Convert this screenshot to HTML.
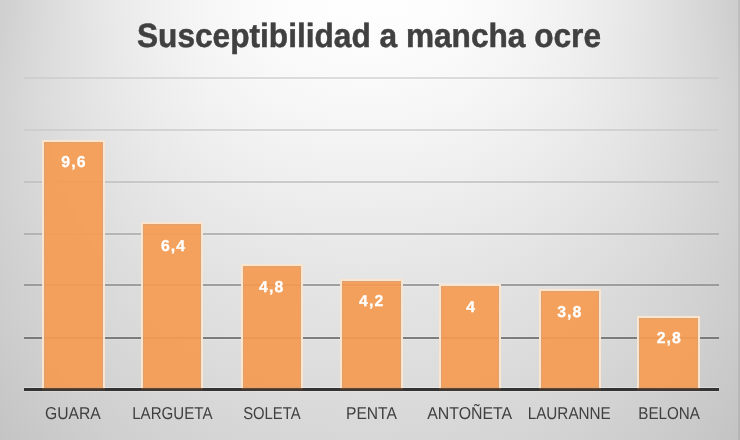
<!DOCTYPE html>
<html><head><meta charset="utf-8"><style>
html,body{margin:0;padding:0;}
body{width:740px;height:440px;overflow:hidden;background:#d8d8d8;}
#c{position:relative;width:740px;height:440px;overflow:hidden;font-family:"Liberation Sans",sans-serif;}
#c i{position:absolute;left:0;width:740px;height:4px;display:block;}
#edge{position:absolute;left:738px;top:0;width:2px;height:440px;background:rgba(0,0,0,0.07);}
svg{position:absolute;left:0;top:0;will-change:transform;text-rendering:geometricPrecision;}
</style></head><body><div id="c">
<i style="top:0px;background:linear-gradient(90deg,rgb(206.7,206.7,206.7) 0px,rgb(208.4,208.4,208.4) 6px,rgb(210.6,210.6,210.6) 14px,rgb(213.8,213.8,213.8) 26px,rgb(217.8,217.8,217.8) 42px,rgb(222.6,222.6,222.6) 62px,rgb(228.2,228.2,228.2) 88px,rgb(234.3,234.3,234.3) 120px,rgb(240.6,240.6,240.6) 160px,rgb(246.8,246.8,246.8) 210px,rgb(251.5,251.5,251.5) 270px,rgb(253.7,253.7,253.7) 330px,rgb(254.0,254.0,254.0) 366px,rgb(253.7,253.7,253.7) 402px,rgb(251.5,251.5,251.5) 462px,rgb(246.8,246.8,246.8) 522px,rgb(240.6,240.6,240.6) 572px,rgb(234.3,234.3,234.3) 612px,rgb(228.2,228.2,228.2) 644px,rgb(222.6,222.6,222.6) 670px,rgb(217.8,217.8,217.8) 690px,rgb(213.8,213.8,213.8) 706px,rgb(210.1,210.1,210.1) 720px,rgb(207.3,207.3,207.3) 730px,rgb(204.4,204.4,204.4) 740px)"></i>
<i style="top:4px;background:linear-gradient(90deg,rgb(206.7,206.7,206.7) 0px,rgb(208.4,208.4,208.4) 6px,rgb(210.6,210.6,210.6) 14px,rgb(213.8,213.8,213.8) 26px,rgb(217.8,217.8,217.8) 42px,rgb(222.6,222.6,222.6) 62px,rgb(228.2,228.2,228.2) 88px,rgb(234.3,234.3,234.3) 120px,rgb(240.6,240.6,240.6) 160px,rgb(246.8,246.8,246.8) 210px,rgb(251.5,251.5,251.5) 270px,rgb(253.7,253.7,253.7) 330px,rgb(254.0,254.0,254.0) 366px,rgb(253.7,253.7,253.7) 402px,rgb(251.5,251.5,251.5) 462px,rgb(246.8,246.8,246.8) 522px,rgb(240.6,240.6,240.6) 572px,rgb(234.3,234.3,234.3) 612px,rgb(228.2,228.2,228.2) 644px,rgb(222.6,222.6,222.6) 670px,rgb(217.8,217.8,217.8) 690px,rgb(213.8,213.8,213.8) 706px,rgb(210.1,210.1,210.1) 720px,rgb(207.3,207.3,207.3) 730px,rgb(204.4,204.4,204.4) 740px)"></i>
<i style="top:8px;background:linear-gradient(90deg,rgb(206.7,206.7,206.7) 0px,rgb(208.4,208.4,208.4) 6px,rgb(210.6,210.6,210.6) 14px,rgb(213.8,213.8,213.8) 26px,rgb(217.8,217.8,217.8) 42px,rgb(222.6,222.6,222.6) 62px,rgb(228.2,228.2,228.2) 88px,rgb(234.3,234.3,234.3) 120px,rgb(240.6,240.6,240.6) 160px,rgb(246.8,246.8,246.8) 210px,rgb(251.5,251.5,251.5) 270px,rgb(253.7,253.7,253.7) 330px,rgb(254.0,254.0,254.0) 366px,rgb(253.7,253.7,253.7) 402px,rgb(251.5,251.5,251.5) 462px,rgb(246.8,246.8,246.8) 522px,rgb(240.6,240.6,240.6) 572px,rgb(234.3,234.3,234.3) 612px,rgb(228.2,228.2,228.2) 644px,rgb(222.6,222.6,222.6) 670px,rgb(217.8,217.8,217.8) 690px,rgb(213.8,213.8,213.8) 706px,rgb(210.1,210.1,210.1) 720px,rgb(207.3,207.3,207.3) 730px,rgb(204.4,204.4,204.4) 740px)"></i>
<i style="top:12px;background:linear-gradient(90deg,rgb(206.7,206.7,206.7) 0px,rgb(208.4,208.4,208.4) 6px,rgb(210.6,210.6,210.6) 14px,rgb(213.8,213.8,213.8) 26px,rgb(217.8,217.8,217.8) 42px,rgb(222.6,222.6,222.6) 62px,rgb(228.2,228.2,228.2) 88px,rgb(234.3,234.3,234.3) 120px,rgb(240.6,240.6,240.6) 160px,rgb(246.8,246.8,246.8) 210px,rgb(251.5,251.5,251.5) 270px,rgb(253.7,253.7,253.7) 330px,rgb(254.0,254.0,254.0) 366px,rgb(253.7,253.7,253.7) 402px,rgb(251.5,251.5,251.5) 462px,rgb(246.8,246.8,246.8) 522px,rgb(240.6,240.6,240.6) 572px,rgb(234.3,234.3,234.3) 612px,rgb(228.2,228.2,228.2) 644px,rgb(222.6,222.6,222.6) 670px,rgb(217.8,217.8,217.8) 690px,rgb(213.8,213.8,213.8) 706px,rgb(210.1,210.1,210.1) 720px,rgb(207.3,207.3,207.3) 730px,rgb(204.4,204.4,204.4) 740px)"></i>
<i style="top:16px;background:linear-gradient(90deg,rgb(206.8,206.8,206.8) 0px,rgb(208.5,208.5,208.5) 6px,rgb(210.7,210.7,210.7) 14px,rgb(213.9,213.9,213.9) 26px,rgb(217.9,217.9,217.9) 42px,rgb(222.6,222.6,222.6) 62px,rgb(228.2,228.2,228.2) 88px,rgb(234.2,234.2,234.2) 120px,rgb(240.6,240.6,240.6) 160px,rgb(246.6,246.6,246.6) 210px,rgb(251.3,251.3,251.3) 270px,rgb(253.5,253.5,253.5) 330px,rgb(253.8,253.8,253.8) 366px,rgb(253.5,253.5,253.5) 402px,rgb(251.3,251.3,251.3) 462px,rgb(246.6,246.6,246.6) 522px,rgb(240.6,240.6,240.6) 572px,rgb(234.2,234.2,234.2) 612px,rgb(228.2,228.2,228.2) 644px,rgb(222.6,222.6,222.6) 670px,rgb(217.9,217.9,217.9) 690px,rgb(213.9,213.9,213.9) 706px,rgb(210.2,210.2,210.2) 720px,rgb(207.4,207.4,207.4) 730px,rgb(204.5,204.5,204.5) 740px)"></i>
<i style="top:20px;background:linear-gradient(90deg,rgb(207.0,207.0,207.0) 0px,rgb(208.7,208.7,208.7) 6px,rgb(210.9,210.9,210.9) 14px,rgb(214.0,214.0,214.0) 26px,rgb(218.0,218.0,218.0) 42px,rgb(222.6,222.6,222.6) 62px,rgb(228.1,228.1,228.1) 88px,rgb(234.1,234.1,234.1) 120px,rgb(240.4,240.4,240.4) 160px,rgb(246.4,246.4,246.4) 210px,rgb(251.1,251.1,251.1) 270px,rgb(253.3,253.3,253.3) 330px,rgb(253.5,253.5,253.5) 366px,rgb(253.3,253.3,253.3) 402px,rgb(251.1,251.1,251.1) 462px,rgb(246.4,246.4,246.4) 522px,rgb(240.4,240.4,240.4) 572px,rgb(234.1,234.1,234.1) 612px,rgb(228.1,228.1,228.1) 644px,rgb(222.6,222.6,222.6) 670px,rgb(218.0,218.0,218.0) 690px,rgb(214.0,214.0,214.0) 706px,rgb(210.3,210.3,210.3) 720px,rgb(207.6,207.6,207.6) 730px,rgb(204.8,204.8,204.8) 740px)"></i>
<i style="top:24px;background:linear-gradient(90deg,rgb(207.2,207.2,207.2) 0px,rgb(208.9,208.9,208.9) 6px,rgb(211.0,211.0,211.0) 14px,rgb(214.1,214.1,214.1) 26px,rgb(218.0,218.0,218.0) 42px,rgb(222.7,222.7,222.7) 62px,rgb(228.1,228.1,228.1) 88px,rgb(234.0,234.0,234.0) 120px,rgb(240.3,240.3,240.3) 160px,rgb(246.2,246.2,246.2) 210px,rgb(250.8,250.8,250.8) 270px,rgb(253.0,253.0,253.0) 330px,rgb(253.3,253.3,253.3) 366px,rgb(253.0,253.0,253.0) 402px,rgb(250.8,250.8,250.8) 462px,rgb(246.2,246.2,246.2) 522px,rgb(240.3,240.3,240.3) 572px,rgb(234.0,234.0,234.0) 612px,rgb(228.1,228.1,228.1) 644px,rgb(222.7,222.7,222.7) 670px,rgb(218.0,218.0,218.0) 690px,rgb(214.1,214.1,214.1) 706px,rgb(210.5,210.5,210.5) 720px,rgb(207.8,207.8,207.8) 730px,rgb(205.0,205.0,205.0) 740px)"></i>
<i style="top:28px;background:linear-gradient(90deg,rgb(207.4,207.4,207.4) 0px,rgb(209.0,209.0,209.0) 6px,rgb(211.2,211.2,211.2) 14px,rgb(214.2,214.2,214.2) 26px,rgb(218.1,218.1,218.1) 42px,rgb(222.7,222.7,222.7) 62px,rgb(228.1,228.1,228.1) 88px,rgb(234.0,234.0,234.0) 120px,rgb(240.1,240.1,240.1) 160px,rgb(246.0,246.0,246.0) 210px,rgb(250.6,250.6,250.6) 270px,rgb(252.7,252.7,252.7) 330px,rgb(253.0,253.0,253.0) 366px,rgb(252.7,252.7,252.7) 402px,rgb(250.6,250.6,250.6) 462px,rgb(246.0,246.0,246.0) 522px,rgb(240.1,240.1,240.1) 572px,rgb(234.0,234.0,234.0) 612px,rgb(228.1,228.1,228.1) 644px,rgb(222.7,222.7,222.7) 670px,rgb(218.1,218.1,218.1) 690px,rgb(214.2,214.2,214.2) 706px,rgb(210.6,210.6,210.6) 720px,rgb(208.0,208.0,208.0) 730px,rgb(205.2,205.2,205.2) 740px)"></i>
<i style="top:32px;background:linear-gradient(90deg,rgb(207.6,207.6,207.6) 0px,rgb(209.2,209.2,209.2) 6px,rgb(211.3,211.3,211.3) 14px,rgb(214.3,214.3,214.3) 26px,rgb(218.2,218.2,218.2) 42px,rgb(222.7,222.7,222.7) 62px,rgb(228.1,228.1,228.1) 88px,rgb(233.9,233.9,233.9) 120px,rgb(240.0,240.0,240.0) 160px,rgb(245.8,245.8,245.8) 210px,rgb(250.3,250.3,250.3) 270px,rgb(252.4,252.4,252.4) 330px,rgb(252.7,252.7,252.7) 366px,rgb(252.4,252.4,252.4) 402px,rgb(250.3,250.3,250.3) 462px,rgb(245.8,245.8,245.8) 522px,rgb(240.0,240.0,240.0) 572px,rgb(233.9,233.9,233.9) 612px,rgb(228.1,228.1,228.1) 644px,rgb(222.7,222.7,222.7) 670px,rgb(218.2,218.2,218.2) 690px,rgb(214.3,214.3,214.3) 706px,rgb(210.8,210.8,210.8) 720px,rgb(208.1,208.1,208.1) 730px,rgb(205.4,205.4,205.4) 740px)"></i>
<i style="top:36px;background:linear-gradient(90deg,rgb(207.8,207.8,207.8) 0px,rgb(209.4,209.4,209.4) 6px,rgb(211.5,211.5,211.5) 14px,rgb(214.5,214.5,214.5) 26px,rgb(218.3,218.3,218.3) 42px,rgb(222.7,222.7,222.7) 62px,rgb(228.0,228.0,228.0) 88px,rgb(233.8,233.8,233.8) 120px,rgb(239.8,239.8,239.8) 160px,rgb(245.6,245.6,245.6) 210px,rgb(250.1,250.1,250.1) 270px,rgb(252.1,252.1,252.1) 330px,rgb(252.4,252.4,252.4) 366px,rgb(252.1,252.1,252.1) 402px,rgb(250.1,250.1,250.1) 462px,rgb(245.6,245.6,245.6) 522px,rgb(239.8,239.8,239.8) 572px,rgb(233.8,233.8,233.8) 612px,rgb(228.0,228.0,228.0) 644px,rgb(222.7,222.7,222.7) 670px,rgb(218.3,218.3,218.3) 690px,rgb(214.5,214.5,214.5) 706px,rgb(210.9,210.9,210.9) 720px,rgb(208.3,208.3,208.3) 730px,rgb(205.6,205.6,205.6) 740px)"></i>
<i style="top:40px;background:linear-gradient(90deg,rgb(208.0,208.0,208.0) 0px,rgb(209.6,209.6,209.6) 6px,rgb(211.6,211.6,211.6) 14px,rgb(214.6,214.6,214.6) 26px,rgb(218.4,218.4,218.4) 42px,rgb(222.8,222.8,222.8) 62px,rgb(228.0,228.0,228.0) 88px,rgb(233.7,233.7,233.7) 120px,rgb(239.7,239.7,239.7) 160px,rgb(245.4,245.4,245.4) 210px,rgb(249.8,249.8,249.8) 270px,rgb(251.9,251.9,251.9) 330px,rgb(252.1,252.1,252.1) 366px,rgb(251.9,251.9,251.9) 402px,rgb(249.8,249.8,249.8) 462px,rgb(245.4,245.4,245.4) 522px,rgb(239.7,239.7,239.7) 572px,rgb(233.7,233.7,233.7) 612px,rgb(228.0,228.0,228.0) 644px,rgb(222.8,222.8,222.8) 670px,rgb(218.4,218.4,218.4) 690px,rgb(214.6,214.6,214.6) 706px,rgb(211.1,211.1,211.1) 720px,rgb(208.5,208.5,208.5) 730px,rgb(205.8,205.8,205.8) 740px)"></i>
<i style="top:44px;background:linear-gradient(90deg,rgb(208.2,208.2,208.2) 0px,rgb(209.7,209.7,209.7) 6px,rgb(211.8,211.8,211.8) 14px,rgb(214.7,214.7,214.7) 26px,rgb(218.4,218.4,218.4) 42px,rgb(222.8,222.8,222.8) 62px,rgb(228.0,228.0,228.0) 88px,rgb(233.6,233.6,233.6) 120px,rgb(239.5,239.5,239.5) 160px,rgb(245.2,245.2,245.2) 210px,rgb(249.5,249.5,249.5) 270px,rgb(251.6,251.6,251.6) 330px,rgb(251.8,251.8,251.8) 366px,rgb(251.6,251.6,251.6) 402px,rgb(249.5,249.5,249.5) 462px,rgb(245.2,245.2,245.2) 522px,rgb(239.5,239.5,239.5) 572px,rgb(233.6,233.6,233.6) 612px,rgb(228.0,228.0,228.0) 644px,rgb(222.8,222.8,222.8) 670px,rgb(218.4,218.4,218.4) 690px,rgb(214.7,214.7,214.7) 706px,rgb(211.3,211.3,211.3) 720px,rgb(208.7,208.7,208.7) 730px,rgb(206.0,206.0,206.0) 740px)"></i>
<i style="top:48px;background:linear-gradient(90deg,rgb(208.4,208.4,208.4) 0px,rgb(209.9,209.9,209.9) 6px,rgb(211.9,211.9,211.9) 14px,rgb(214.8,214.8,214.8) 26px,rgb(218.5,218.5,218.5) 42px,rgb(222.8,222.8,222.8) 62px,rgb(228.0,228.0,228.0) 88px,rgb(233.5,233.5,233.5) 120px,rgb(239.4,239.4,239.4) 160px,rgb(244.9,244.9,244.9) 210px,rgb(249.3,249.3,249.3) 270px,rgb(251.3,251.3,251.3) 330px,rgb(251.6,251.6,251.6) 366px,rgb(251.3,251.3,251.3) 402px,rgb(249.3,249.3,249.3) 462px,rgb(244.9,244.9,244.9) 522px,rgb(239.4,239.4,239.4) 572px,rgb(233.5,233.5,233.5) 612px,rgb(228.0,228.0,228.0) 644px,rgb(222.8,222.8,222.8) 670px,rgb(218.5,218.5,218.5) 690px,rgb(214.8,214.8,214.8) 706px,rgb(211.4,211.4,211.4) 720px,rgb(208.9,208.9,208.9) 730px,rgb(206.3,206.3,206.3) 740px)"></i>
<i style="top:52px;background:linear-gradient(90deg,rgb(208.6,208.6,208.6) 0px,rgb(210.1,210.1,210.1) 6px,rgb(212.1,212.1,212.1) 14px,rgb(214.9,214.9,214.9) 26px,rgb(218.6,218.6,218.6) 42px,rgb(222.9,222.9,222.9) 62px,rgb(228.0,228.0,228.0) 88px,rgb(233.5,233.5,233.5) 120px,rgb(239.2,239.2,239.2) 160px,rgb(244.7,244.7,244.7) 210px,rgb(249.0,249.0,249.0) 270px,rgb(251.0,251.0,251.0) 330px,rgb(251.3,251.3,251.3) 366px,rgb(251.0,251.0,251.0) 402px,rgb(249.0,249.0,249.0) 462px,rgb(244.7,244.7,244.7) 522px,rgb(239.2,239.2,239.2) 572px,rgb(233.5,233.5,233.5) 612px,rgb(228.0,228.0,228.0) 644px,rgb(222.9,222.9,222.9) 670px,rgb(218.6,218.6,218.6) 690px,rgb(214.9,214.9,214.9) 706px,rgb(211.6,211.6,211.6) 720px,rgb(209.1,209.1,209.1) 730px,rgb(206.5,206.5,206.5) 740px)"></i>
<i style="top:56px;background:linear-gradient(90deg,rgb(208.7,208.7,208.7) 0px,rgb(210.3,210.3,210.3) 6px,rgb(212.2,212.2,212.2) 14px,rgb(215.1,215.1,215.1) 26px,rgb(218.7,218.7,218.7) 42px,rgb(222.9,222.9,222.9) 62px,rgb(227.9,227.9,227.9) 88px,rgb(233.4,233.4,233.4) 120px,rgb(239.1,239.1,239.1) 160px,rgb(244.5,244.5,244.5) 210px,rgb(248.8,248.8,248.8) 270px,rgb(250.7,250.7,250.7) 330px,rgb(251.0,251.0,251.0) 366px,rgb(250.7,250.7,250.7) 402px,rgb(248.8,248.8,248.8) 462px,rgb(244.5,244.5,244.5) 522px,rgb(239.1,239.1,239.1) 572px,rgb(233.4,233.4,233.4) 612px,rgb(227.9,227.9,227.9) 644px,rgb(222.9,222.9,222.9) 670px,rgb(218.7,218.7,218.7) 690px,rgb(215.1,215.1,215.1) 706px,rgb(211.7,211.7,211.7) 720px,rgb(209.3,209.3,209.3) 730px,rgb(206.7,206.7,206.7) 740px)"></i>
<i style="top:60px;background:linear-gradient(90deg,rgb(208.9,208.9,208.9) 0px,rgb(210.4,210.4,210.4) 6px,rgb(212.4,212.4,212.4) 14px,rgb(215.2,215.2,215.2) 26px,rgb(218.8,218.8,218.8) 42px,rgb(222.9,222.9,222.9) 62px,rgb(227.9,227.9,227.9) 88px,rgb(233.3,233.3,233.3) 120px,rgb(238.9,238.9,238.9) 160px,rgb(244.3,244.3,244.3) 210px,rgb(248.5,248.5,248.5) 270px,rgb(250.5,250.5,250.5) 330px,rgb(250.7,250.7,250.7) 366px,rgb(250.5,250.5,250.5) 402px,rgb(248.5,248.5,248.5) 462px,rgb(244.3,244.3,244.3) 522px,rgb(238.9,238.9,238.9) 572px,rgb(233.3,233.3,233.3) 612px,rgb(227.9,227.9,227.9) 644px,rgb(222.9,222.9,222.9) 670px,rgb(218.8,218.8,218.8) 690px,rgb(215.2,215.2,215.2) 706px,rgb(211.9,211.9,211.9) 720px,rgb(209.4,209.4,209.4) 730px,rgb(206.9,206.9,206.9) 740px)"></i>
<i style="top:64px;background:linear-gradient(90deg,rgb(209.1,209.1,209.1) 0px,rgb(210.6,210.6,210.6) 6px,rgb(212.5,212.5,212.5) 14px,rgb(215.3,215.3,215.3) 26px,rgb(218.8,218.8,218.8) 42px,rgb(223.0,223.0,223.0) 62px,rgb(227.9,227.9,227.9) 88px,rgb(233.2,233.2,233.2) 120px,rgb(238.8,238.8,238.8) 160px,rgb(244.1,244.1,244.1) 210px,rgb(248.3,248.3,248.3) 270px,rgb(250.2,250.2,250.2) 330px,rgb(250.4,250.4,250.4) 366px,rgb(250.2,250.2,250.2) 402px,rgb(248.3,248.3,248.3) 462px,rgb(244.1,244.1,244.1) 522px,rgb(238.8,238.8,238.8) 572px,rgb(233.2,233.2,233.2) 612px,rgb(227.9,227.9,227.9) 644px,rgb(223.0,223.0,223.0) 670px,rgb(218.8,218.8,218.8) 690px,rgb(215.3,215.3,215.3) 706px,rgb(212.0,212.0,212.0) 720px,rgb(209.6,209.6,209.6) 730px,rgb(207.1,207.1,207.1) 740px)"></i>
<i style="top:68px;background:linear-gradient(90deg,rgb(209.3,209.3,209.3) 0px,rgb(210.8,210.8,210.8) 6px,rgb(212.7,212.7,212.7) 14px,rgb(215.4,215.4,215.4) 26px,rgb(218.9,218.9,218.9) 42px,rgb(223.0,223.0,223.0) 62px,rgb(227.9,227.9,227.9) 88px,rgb(233.1,233.1,233.1) 120px,rgb(238.6,238.6,238.6) 160px,rgb(243.9,243.9,243.9) 210px,rgb(248.0,248.0,248.0) 270px,rgb(249.9,249.9,249.9) 330px,rgb(250.2,250.2,250.2) 366px,rgb(249.9,249.9,249.9) 402px,rgb(248.0,248.0,248.0) 462px,rgb(243.9,243.9,243.9) 522px,rgb(238.6,238.6,238.6) 572px,rgb(233.1,233.1,233.1) 612px,rgb(227.9,227.9,227.9) 644px,rgb(223.0,223.0,223.0) 670px,rgb(218.9,218.9,218.9) 690px,rgb(215.4,215.4,215.4) 706px,rgb(212.2,212.2,212.2) 720px,rgb(209.8,209.8,209.8) 730px,rgb(207.3,207.3,207.3) 740px)"></i>
<i style="top:72px;background:linear-gradient(90deg,rgb(209.5,209.5,209.5) 0px,rgb(211.0,211.0,211.0) 6px,rgb(212.8,212.8,212.8) 14px,rgb(215.6,215.6,215.6) 26px,rgb(219.0,219.0,219.0) 42px,rgb(223.0,223.0,223.0) 62px,rgb(227.8,227.8,227.8) 88px,rgb(233.0,233.0,233.0) 120px,rgb(238.5,238.5,238.5) 160px,rgb(243.7,243.7,243.7) 210px,rgb(247.7,247.7,247.7) 270px,rgb(249.6,249.6,249.6) 330px,rgb(249.9,249.9,249.9) 366px,rgb(249.6,249.6,249.6) 402px,rgb(247.7,247.7,247.7) 462px,rgb(243.7,243.7,243.7) 522px,rgb(238.5,238.5,238.5) 572px,rgb(233.0,233.0,233.0) 612px,rgb(227.8,227.8,227.8) 644px,rgb(223.0,223.0,223.0) 670px,rgb(219.0,219.0,219.0) 690px,rgb(215.6,215.6,215.6) 706px,rgb(212.4,212.4,212.4) 720px,rgb(210.0,210.0,210.0) 730px,rgb(207.5,207.5,207.5) 740px)"></i>
<i style="top:76px;background:linear-gradient(90deg,rgb(209.7,209.7,209.7) 0px,rgb(211.1,211.1,211.1) 6px,rgb(213.0,213.0,213.0) 14px,rgb(215.7,215.7,215.7) 26px,rgb(219.1,219.1,219.1) 42px,rgb(223.1,223.1,223.1) 62px,rgb(227.8,227.8,227.8) 88px,rgb(232.9,232.9,232.9) 120px,rgb(238.3,238.3,238.3) 160px,rgb(243.5,243.5,243.5) 210px,rgb(247.5,247.5,247.5) 270px,rgb(249.3,249.3,249.3) 330px,rgb(249.6,249.6,249.6) 366px,rgb(249.3,249.3,249.3) 402px,rgb(247.5,247.5,247.5) 462px,rgb(243.5,243.5,243.5) 522px,rgb(238.3,238.3,238.3) 572px,rgb(232.9,232.9,232.9) 612px,rgb(227.8,227.8,227.8) 644px,rgb(223.1,223.1,223.1) 670px,rgb(219.1,219.1,219.1) 690px,rgb(215.7,215.7,215.7) 706px,rgb(212.5,212.5,212.5) 720px,rgb(210.2,210.2,210.2) 730px,rgb(207.8,207.8,207.8) 740px)"></i>
<i style="top:80px;background:linear-gradient(90deg,rgb(209.9,209.9,209.9) 0px,rgb(211.3,211.3,211.3) 6px,rgb(213.1,213.1,213.1) 14px,rgb(215.8,215.8,215.8) 26px,rgb(219.2,219.2,219.2) 42px,rgb(223.1,223.1,223.1) 62px,rgb(227.8,227.8,227.8) 88px,rgb(232.9,232.9,232.9) 120px,rgb(238.2,238.2,238.2) 160px,rgb(243.3,243.3,243.3) 210px,rgb(247.2,247.2,247.2) 270px,rgb(249.1,249.1,249.1) 330px,rgb(249.3,249.3,249.3) 366px,rgb(249.1,249.1,249.1) 402px,rgb(247.2,247.2,247.2) 462px,rgb(243.3,243.3,243.3) 522px,rgb(238.2,238.2,238.2) 572px,rgb(232.9,232.9,232.9) 612px,rgb(227.8,227.8,227.8) 644px,rgb(223.1,223.1,223.1) 670px,rgb(219.2,219.2,219.2) 690px,rgb(215.8,215.8,215.8) 706px,rgb(212.7,212.7,212.7) 720px,rgb(210.4,210.4,210.4) 730px,rgb(208.0,208.0,208.0) 740px)"></i>
<i style="top:84px;background:linear-gradient(90deg,rgb(210.1,210.1,210.1) 0px,rgb(211.5,211.5,211.5) 6px,rgb(213.3,213.3,213.3) 14px,rgb(215.9,215.9,215.9) 26px,rgb(219.2,219.2,219.2) 42px,rgb(223.1,223.1,223.1) 62px,rgb(227.8,227.8,227.8) 88px,rgb(232.8,232.8,232.8) 120px,rgb(238.0,238.0,238.0) 160px,rgb(243.1,243.1,243.1) 210px,rgb(247.0,247.0,247.0) 270px,rgb(248.8,248.8,248.8) 330px,rgb(249.0,249.0,249.0) 366px,rgb(248.8,248.8,248.8) 402px,rgb(247.0,247.0,247.0) 462px,rgb(243.1,243.1,243.1) 522px,rgb(238.0,238.0,238.0) 572px,rgb(232.8,232.8,232.8) 612px,rgb(227.8,227.8,227.8) 644px,rgb(223.1,223.1,223.1) 670px,rgb(219.2,219.2,219.2) 690px,rgb(215.9,215.9,215.9) 706px,rgb(212.8,212.8,212.8) 720px,rgb(210.6,210.6,210.6) 730px,rgb(208.2,208.2,208.2) 740px)"></i>
<i style="top:88px;background:linear-gradient(90deg,rgb(210.3,210.3,210.3) 0px,rgb(211.6,211.6,211.6) 6px,rgb(213.4,213.4,213.4) 14px,rgb(216.0,216.0,216.0) 26px,rgb(219.3,219.3,219.3) 42px,rgb(223.2,223.2,223.2) 62px,rgb(227.7,227.7,227.7) 88px,rgb(232.7,232.7,232.7) 120px,rgb(237.9,237.9,237.9) 160px,rgb(242.8,242.8,242.8) 210px,rgb(246.7,246.7,246.7) 270px,rgb(248.5,248.5,248.5) 330px,rgb(248.7,248.7,248.7) 366px,rgb(248.5,248.5,248.5) 402px,rgb(246.7,246.7,246.7) 462px,rgb(242.8,242.8,242.8) 522px,rgb(237.9,237.9,237.9) 572px,rgb(232.7,232.7,232.7) 612px,rgb(227.7,227.7,227.7) 644px,rgb(223.2,223.2,223.2) 670px,rgb(219.3,219.3,219.3) 690px,rgb(216.0,216.0,216.0) 706px,rgb(213.0,213.0,213.0) 720px,rgb(210.7,210.7,210.7) 730px,rgb(208.4,208.4,208.4) 740px)"></i>
<i style="top:92px;background:linear-gradient(90deg,rgb(210.5,210.5,210.5) 0px,rgb(211.8,211.8,211.8) 6px,rgb(213.6,213.6,213.6) 14px,rgb(216.2,216.2,216.2) 26px,rgb(219.4,219.4,219.4) 42px,rgb(223.2,223.2,223.2) 62px,rgb(227.7,227.7,227.7) 88px,rgb(232.6,232.6,232.6) 120px,rgb(237.7,237.7,237.7) 160px,rgb(242.6,242.6,242.6) 210px,rgb(246.5,246.5,246.5) 270px,rgb(248.2,248.2,248.2) 330px,rgb(248.5,248.5,248.5) 366px,rgb(248.2,248.2,248.2) 402px,rgb(246.5,246.5,246.5) 462px,rgb(242.6,242.6,242.6) 522px,rgb(237.7,237.7,237.7) 572px,rgb(232.6,232.6,232.6) 612px,rgb(227.7,227.7,227.7) 644px,rgb(223.2,223.2,223.2) 670px,rgb(219.4,219.4,219.4) 690px,rgb(216.2,216.2,216.2) 706px,rgb(213.2,213.2,213.2) 720px,rgb(210.9,210.9,210.9) 730px,rgb(208.6,208.6,208.6) 740px)"></i>
<i style="top:96px;background:linear-gradient(90deg,rgb(210.7,210.7,210.7) 0px,rgb(212.0,212.0,212.0) 6px,rgb(213.7,213.7,213.7) 14px,rgb(216.3,216.3,216.3) 26px,rgb(219.5,219.5,219.5) 42px,rgb(223.2,223.2,223.2) 62px,rgb(227.7,227.7,227.7) 88px,rgb(232.5,232.5,232.5) 120px,rgb(237.6,237.6,237.6) 160px,rgb(242.4,242.4,242.4) 210px,rgb(246.2,246.2,246.2) 270px,rgb(247.9,247.9,247.9) 330px,rgb(248.2,248.2,248.2) 366px,rgb(247.9,247.9,247.9) 402px,rgb(246.2,246.2,246.2) 462px,rgb(242.4,242.4,242.4) 522px,rgb(237.6,237.6,237.6) 572px,rgb(232.5,232.5,232.5) 612px,rgb(227.7,227.7,227.7) 644px,rgb(223.2,223.2,223.2) 670px,rgb(219.5,219.5,219.5) 690px,rgb(216.3,216.3,216.3) 706px,rgb(213.3,213.3,213.3) 720px,rgb(211.1,211.1,211.1) 730px,rgb(208.8,208.8,208.8) 740px)"></i>
<i style="top:100px;background:linear-gradient(90deg,rgb(210.8,210.8,210.8) 0px,rgb(212.1,212.1,212.1) 6px,rgb(213.8,213.8,213.8) 14px,rgb(216.3,216.3,216.3) 26px,rgb(219.5,219.5,219.5) 42px,rgb(223.2,223.2,223.2) 62px,rgb(227.6,227.6,227.6) 88px,rgb(232.4,232.4,232.4) 120px,rgb(237.4,237.4,237.4) 160px,rgb(242.2,242.2,242.2) 210px,rgb(245.9,245.9,245.9) 270px,rgb(247.6,247.6,247.6) 330px,rgb(247.8,247.8,247.8) 366px,rgb(247.6,247.6,247.6) 402px,rgb(245.9,245.9,245.9) 462px,rgb(242.2,242.2,242.2) 522px,rgb(237.4,237.4,237.4) 572px,rgb(232.4,232.4,232.4) 612px,rgb(227.6,227.6,227.6) 644px,rgb(223.2,223.2,223.2) 670px,rgb(219.5,219.5,219.5) 690px,rgb(216.3,216.3,216.3) 706px,rgb(213.4,213.4,213.4) 720px,rgb(211.2,211.2,211.2) 730px,rgb(208.9,208.9,208.9) 740px)"></i>
<i style="top:104px;background:linear-gradient(90deg,rgb(210.7,210.7,210.7) 0px,rgb(212.0,212.0,212.0) 6px,rgb(213.7,213.7,213.7) 14px,rgb(216.2,216.2,216.2) 26px,rgb(219.3,219.3,219.3) 42px,rgb(223.0,223.0,223.0) 62px,rgb(227.4,227.4,227.4) 88px,rgb(232.1,232.1,232.1) 120px,rgb(237.1,237.1,237.1) 160px,rgb(241.8,241.8,241.8) 210px,rgb(245.5,245.5,245.5) 270px,rgb(247.2,247.2,247.2) 330px,rgb(247.4,247.4,247.4) 366px,rgb(247.2,247.2,247.2) 402px,rgb(245.5,245.5,245.5) 462px,rgb(241.8,241.8,241.8) 522px,rgb(237.1,237.1,237.1) 572px,rgb(232.1,232.1,232.1) 612px,rgb(227.4,227.4,227.4) 644px,rgb(223.0,223.0,223.0) 670px,rgb(219.3,219.3,219.3) 690px,rgb(216.2,216.2,216.2) 706px,rgb(213.3,213.3,213.3) 720px,rgb(211.1,211.1,211.1) 730px,rgb(208.9,208.9,208.9) 740px)"></i>
<i style="top:108px;background:linear-gradient(90deg,rgb(210.6,210.6,210.6) 0px,rgb(211.9,211.9,211.9) 6px,rgb(213.6,213.6,213.6) 14px,rgb(216.1,216.1,216.1) 26px,rgb(219.2,219.2,219.2) 42px,rgb(222.8,222.8,222.8) 62px,rgb(227.1,227.1,227.1) 88px,rgb(231.8,231.8,231.8) 120px,rgb(236.7,236.7,236.7) 160px,rgb(241.4,241.4,241.4) 210px,rgb(245.1,245.1,245.1) 270px,rgb(246.8,246.8,246.8) 330px,rgb(247.0,247.0,247.0) 366px,rgb(246.8,246.8,246.8) 402px,rgb(245.1,245.1,245.1) 462px,rgb(241.4,241.4,241.4) 522px,rgb(236.7,236.7,236.7) 572px,rgb(231.8,231.8,231.8) 612px,rgb(227.1,227.1,227.1) 644px,rgb(222.8,222.8,222.8) 670px,rgb(219.2,219.2,219.2) 690px,rgb(216.1,216.1,216.1) 706px,rgb(213.2,213.2,213.2) 720px,rgb(211.1,211.1,211.1) 730px,rgb(208.9,208.9,208.9) 740px)"></i>
<i style="top:112px;background:linear-gradient(90deg,rgb(210.6,210.6,210.6) 0px,rgb(211.9,211.9,211.9) 6px,rgb(213.5,213.5,213.5) 14px,rgb(216.0,216.0,216.0) 26px,rgb(219.0,219.0,219.0) 42px,rgb(222.7,222.7,222.7) 62px,rgb(226.9,226.9,226.9) 88px,rgb(231.6,231.6,231.6) 120px,rgb(236.4,236.4,236.4) 160px,rgb(241.1,241.1,241.1) 210px,rgb(244.7,244.7,244.7) 270px,rgb(246.4,246.4,246.4) 330px,rgb(246.6,246.6,246.6) 366px,rgb(246.4,246.4,246.4) 402px,rgb(244.7,244.7,244.7) 462px,rgb(241.1,241.1,241.1) 522px,rgb(236.4,236.4,236.4) 572px,rgb(231.6,231.6,231.6) 612px,rgb(226.9,226.9,226.9) 644px,rgb(222.7,222.7,222.7) 670px,rgb(219.0,219.0,219.0) 690px,rgb(216.0,216.0,216.0) 706px,rgb(213.1,213.1,213.1) 720px,rgb(211.0,211.0,211.0) 730px,rgb(208.8,208.8,208.8) 740px)"></i>
<i style="top:116px;background:linear-gradient(90deg,rgb(210.5,210.5,210.5) 0px,rgb(211.8,211.8,211.8) 6px,rgb(213.5,213.5,213.5) 14px,rgb(215.9,215.9,215.9) 26px,rgb(218.9,218.9,218.9) 42px,rgb(222.5,222.5,222.5) 62px,rgb(226.7,226.7,226.7) 88px,rgb(231.3,231.3,231.3) 120px,rgb(236.1,236.1,236.1) 160px,rgb(240.7,240.7,240.7) 210px,rgb(244.3,244.3,244.3) 270px,rgb(245.9,245.9,245.9) 330px,rgb(246.2,246.2,246.2) 366px,rgb(245.9,245.9,245.9) 402px,rgb(244.3,244.3,244.3) 462px,rgb(240.7,240.7,240.7) 522px,rgb(236.1,236.1,236.1) 572px,rgb(231.3,231.3,231.3) 612px,rgb(226.7,226.7,226.7) 644px,rgb(222.5,222.5,222.5) 670px,rgb(218.9,218.9,218.9) 690px,rgb(215.9,215.9,215.9) 706px,rgb(213.0,213.0,213.0) 720px,rgb(211.0,211.0,211.0) 730px,rgb(208.8,208.8,208.8) 740px)"></i>
<i style="top:120px;background:linear-gradient(90deg,rgb(210.5,210.5,210.5) 0px,rgb(211.7,211.7,211.7) 6px,rgb(213.4,213.4,213.4) 14px,rgb(215.7,215.7,215.7) 26px,rgb(218.8,218.8,218.8) 42px,rgb(222.3,222.3,222.3) 62px,rgb(226.5,226.5,226.5) 88px,rgb(231.0,231.0,231.0) 120px,rgb(235.8,235.8,235.8) 160px,rgb(240.3,240.3,240.3) 210px,rgb(243.9,243.9,243.9) 270px,rgb(245.5,245.5,245.5) 330px,rgb(245.7,245.7,245.7) 366px,rgb(245.5,245.5,245.5) 402px,rgb(243.9,243.9,243.9) 462px,rgb(240.3,240.3,240.3) 522px,rgb(235.8,235.8,235.8) 572px,rgb(231.0,231.0,231.0) 612px,rgb(226.5,226.5,226.5) 644px,rgb(222.3,222.3,222.3) 670px,rgb(218.8,218.8,218.8) 690px,rgb(215.7,215.7,215.7) 706px,rgb(213.0,213.0,213.0) 720px,rgb(210.9,210.9,210.9) 730px,rgb(208.7,208.7,208.7) 740px)"></i>
<i style="top:124px;background:linear-gradient(90deg,rgb(210.4,210.4,210.4) 0px,rgb(211.7,211.7,211.7) 6px,rgb(213.3,213.3,213.3) 14px,rgb(215.6,215.6,215.6) 26px,rgb(218.6,218.6,218.6) 42px,rgb(222.1,222.1,222.1) 62px,rgb(226.3,226.3,226.3) 88px,rgb(230.8,230.8,230.8) 120px,rgb(235.5,235.5,235.5) 160px,rgb(240.0,240.0,240.0) 210px,rgb(243.5,243.5,243.5) 270px,rgb(245.1,245.1,245.1) 330px,rgb(245.3,245.3,245.3) 366px,rgb(245.1,245.1,245.1) 402px,rgb(243.5,243.5,243.5) 462px,rgb(240.0,240.0,240.0) 522px,rgb(235.5,235.5,235.5) 572px,rgb(230.8,230.8,230.8) 612px,rgb(226.3,226.3,226.3) 644px,rgb(222.1,222.1,222.1) 670px,rgb(218.6,218.6,218.6) 690px,rgb(215.6,215.6,215.6) 706px,rgb(212.9,212.9,212.9) 720px,rgb(210.8,210.8,210.8) 730px,rgb(208.7,208.7,208.7) 740px)"></i>
<i style="top:128px;background:linear-gradient(90deg,rgb(210.4,210.4,210.4) 0px,rgb(211.6,211.6,211.6) 6px,rgb(213.2,213.2,213.2) 14px,rgb(215.5,215.5,215.5) 26px,rgb(218.5,218.5,218.5) 42px,rgb(221.9,221.9,221.9) 62px,rgb(226.0,226.0,226.0) 88px,rgb(230.5,230.5,230.5) 120px,rgb(235.1,235.1,235.1) 160px,rgb(239.6,239.6,239.6) 210px,rgb(243.1,243.1,243.1) 270px,rgb(244.7,244.7,244.7) 330px,rgb(244.9,244.9,244.9) 366px,rgb(244.7,244.7,244.7) 402px,rgb(243.1,243.1,243.1) 462px,rgb(239.6,239.6,239.6) 522px,rgb(235.1,235.1,235.1) 572px,rgb(230.5,230.5,230.5) 612px,rgb(226.0,226.0,226.0) 644px,rgb(221.9,221.9,221.9) 670px,rgb(218.5,218.5,218.5) 690px,rgb(215.5,215.5,215.5) 706px,rgb(212.8,212.8,212.8) 720px,rgb(210.8,210.8,210.8) 730px,rgb(208.7,208.7,208.7) 740px)"></i>
<i style="top:132px;background:linear-gradient(90deg,rgb(210.3,210.3,210.3) 0px,rgb(211.5,211.5,211.5) 6px,rgb(213.1,213.1,213.1) 14px,rgb(215.4,215.4,215.4) 26px,rgb(218.3,218.3,218.3) 42px,rgb(221.8,221.8,221.8) 62px,rgb(225.8,225.8,225.8) 88px,rgb(230.2,230.2,230.2) 120px,rgb(234.8,234.8,234.8) 160px,rgb(239.2,239.2,239.2) 210px,rgb(242.7,242.7,242.7) 270px,rgb(244.3,244.3,244.3) 330px,rgb(244.5,244.5,244.5) 366px,rgb(244.3,244.3,244.3) 402px,rgb(242.7,242.7,242.7) 462px,rgb(239.2,239.2,239.2) 522px,rgb(234.8,234.8,234.8) 572px,rgb(230.2,230.2,230.2) 612px,rgb(225.8,225.8,225.8) 644px,rgb(221.8,221.8,221.8) 670px,rgb(218.3,218.3,218.3) 690px,rgb(215.4,215.4,215.4) 706px,rgb(212.7,212.7,212.7) 720px,rgb(210.7,210.7,210.7) 730px,rgb(208.6,208.6,208.6) 740px)"></i>
<i style="top:136px;background:linear-gradient(90deg,rgb(210.2,210.2,210.2) 0px,rgb(211.4,211.4,211.4) 6px,rgb(213.0,213.0,213.0) 14px,rgb(215.3,215.3,215.3) 26px,rgb(218.2,218.2,218.2) 42px,rgb(221.6,221.6,221.6) 62px,rgb(225.6,225.6,225.6) 88px,rgb(229.9,229.9,229.9) 120px,rgb(234.5,234.5,234.5) 160px,rgb(238.9,238.9,238.9) 210px,rgb(242.3,242.3,242.3) 270px,rgb(243.9,243.9,243.9) 330px,rgb(244.1,244.1,244.1) 366px,rgb(243.9,243.9,243.9) 402px,rgb(242.3,242.3,242.3) 462px,rgb(238.9,238.9,238.9) 522px,rgb(234.5,234.5,234.5) 572px,rgb(229.9,229.9,229.9) 612px,rgb(225.6,225.6,225.6) 644px,rgb(221.6,221.6,221.6) 670px,rgb(218.2,218.2,218.2) 690px,rgb(215.3,215.3,215.3) 706px,rgb(212.6,212.6,212.6) 720px,rgb(210.6,210.6,210.6) 730px,rgb(208.6,208.6,208.6) 740px)"></i>
<i style="top:140px;background:linear-gradient(90deg,rgb(210.2,210.2,210.2) 0px,rgb(211.4,211.4,211.4) 6px,rgb(212.9,212.9,212.9) 14px,rgb(215.2,215.2,215.2) 26px,rgb(218.0,218.0,218.0) 42px,rgb(221.4,221.4,221.4) 62px,rgb(225.4,225.4,225.4) 88px,rgb(229.7,229.7,229.7) 120px,rgb(234.2,234.2,234.2) 160px,rgb(238.5,238.5,238.5) 210px,rgb(241.9,241.9,241.9) 270px,rgb(243.4,243.4,243.4) 330px,rgb(243.6,243.6,243.6) 366px,rgb(243.4,243.4,243.4) 402px,rgb(241.9,241.9,241.9) 462px,rgb(238.5,238.5,238.5) 522px,rgb(234.2,234.2,234.2) 572px,rgb(229.7,229.7,229.7) 612px,rgb(225.4,225.4,225.4) 644px,rgb(221.4,221.4,221.4) 670px,rgb(218.0,218.0,218.0) 690px,rgb(215.2,215.2,215.2) 706px,rgb(212.5,212.5,212.5) 720px,rgb(210.6,210.6,210.6) 730px,rgb(208.5,208.5,208.5) 740px)"></i>
<i style="top:144px;background:linear-gradient(90deg,rgb(210.1,210.1,210.1) 0px,rgb(211.3,211.3,211.3) 6px,rgb(212.8,212.8,212.8) 14px,rgb(215.1,215.1,215.1) 26px,rgb(217.9,217.9,217.9) 42px,rgb(221.2,221.2,221.2) 62px,rgb(225.1,225.1,225.1) 88px,rgb(229.4,229.4,229.4) 120px,rgb(233.9,233.9,233.9) 160px,rgb(238.2,238.2,238.2) 210px,rgb(241.5,241.5,241.5) 270px,rgb(243.0,243.0,243.0) 330px,rgb(243.2,243.2,243.2) 366px,rgb(243.0,243.0,243.0) 402px,rgb(241.5,241.5,241.5) 462px,rgb(238.2,238.2,238.2) 522px,rgb(233.9,233.9,233.9) 572px,rgb(229.4,229.4,229.4) 612px,rgb(225.1,225.1,225.1) 644px,rgb(221.2,221.2,221.2) 670px,rgb(217.9,217.9,217.9) 690px,rgb(215.1,215.1,215.1) 706px,rgb(212.5,212.5,212.5) 720px,rgb(210.5,210.5,210.5) 730px,rgb(208.5,208.5,208.5) 740px)"></i>
<i style="top:148px;background:linear-gradient(90deg,rgb(210.1,210.1,210.1) 0px,rgb(211.2,211.2,211.2) 6px,rgb(212.8,212.8,212.8) 14px,rgb(215.0,215.0,215.0) 26px,rgb(217.8,217.8,217.8) 42px,rgb(221.0,221.0,221.0) 62px,rgb(224.9,224.9,224.9) 88px,rgb(229.1,229.1,229.1) 120px,rgb(233.6,233.6,233.6) 160px,rgb(237.8,237.8,237.8) 210px,rgb(241.1,241.1,241.1) 270px,rgb(242.6,242.6,242.6) 330px,rgb(242.8,242.8,242.8) 366px,rgb(242.6,242.6,242.6) 402px,rgb(241.1,241.1,241.1) 462px,rgb(237.8,237.8,237.8) 522px,rgb(233.6,233.6,233.6) 572px,rgb(229.1,229.1,229.1) 612px,rgb(224.9,224.9,224.9) 644px,rgb(221.0,221.0,221.0) 670px,rgb(217.8,217.8,217.8) 690px,rgb(215.0,215.0,215.0) 706px,rgb(212.4,212.4,212.4) 720px,rgb(210.5,210.5,210.5) 730px,rgb(208.5,208.5,208.5) 740px)"></i>
<i style="top:152px;background:linear-gradient(90deg,rgb(210.0,210.0,210.0) 0px,rgb(211.2,211.2,211.2) 6px,rgb(212.7,212.7,212.7) 14px,rgb(214.8,214.8,214.8) 26px,rgb(217.6,217.6,217.6) 42px,rgb(220.9,220.9,220.9) 62px,rgb(224.7,224.7,224.7) 88px,rgb(228.9,228.9,228.9) 120px,rgb(233.2,233.2,233.2) 160px,rgb(237.4,237.4,237.4) 210px,rgb(240.7,240.7,240.7) 270px,rgb(242.2,242.2,242.2) 330px,rgb(242.4,242.4,242.4) 366px,rgb(242.2,242.2,242.2) 402px,rgb(240.7,240.7,240.7) 462px,rgb(237.4,237.4,237.4) 522px,rgb(233.2,233.2,233.2) 572px,rgb(228.9,228.9,228.9) 612px,rgb(224.7,224.7,224.7) 644px,rgb(220.9,220.9,220.9) 670px,rgb(217.6,217.6,217.6) 690px,rgb(214.8,214.8,214.8) 706px,rgb(212.3,212.3,212.3) 720px,rgb(210.4,210.4,210.4) 730px,rgb(208.4,208.4,208.4) 740px)"></i>
<i style="top:156px;background:linear-gradient(90deg,rgb(209.9,209.9,209.9) 0px,rgb(211.1,211.1,211.1) 6px,rgb(212.6,212.6,212.6) 14px,rgb(214.7,214.7,214.7) 26px,rgb(217.5,217.5,217.5) 42px,rgb(220.7,220.7,220.7) 62px,rgb(224.5,224.5,224.5) 88px,rgb(228.6,228.6,228.6) 120px,rgb(232.9,232.9,232.9) 160px,rgb(237.1,237.1,237.1) 210px,rgb(240.3,240.3,240.3) 270px,rgb(241.8,241.8,241.8) 330px,rgb(242.0,242.0,242.0) 366px,rgb(241.8,241.8,241.8) 402px,rgb(240.3,240.3,240.3) 462px,rgb(237.1,237.1,237.1) 522px,rgb(232.9,232.9,232.9) 572px,rgb(228.6,228.6,228.6) 612px,rgb(224.5,224.5,224.5) 644px,rgb(220.7,220.7,220.7) 670px,rgb(217.5,217.5,217.5) 690px,rgb(214.7,214.7,214.7) 706px,rgb(212.2,212.2,212.2) 720px,rgb(210.3,210.3,210.3) 730px,rgb(208.4,208.4,208.4) 740px)"></i>
<i style="top:160px;background:linear-gradient(90deg,rgb(209.9,209.9,209.9) 0px,rgb(211.0,211.0,211.0) 6px,rgb(212.5,212.5,212.5) 14px,rgb(214.6,214.6,214.6) 26px,rgb(217.3,217.3,217.3) 42px,rgb(220.5,220.5,220.5) 62px,rgb(224.3,224.3,224.3) 88px,rgb(228.3,228.3,228.3) 120px,rgb(232.6,232.6,232.6) 160px,rgb(236.7,236.7,236.7) 210px,rgb(239.9,239.9,239.9) 270px,rgb(241.3,241.3,241.3) 330px,rgb(241.5,241.5,241.5) 366px,rgb(241.3,241.3,241.3) 402px,rgb(239.9,239.9,239.9) 462px,rgb(236.7,236.7,236.7) 522px,rgb(232.6,232.6,232.6) 572px,rgb(228.3,228.3,228.3) 612px,rgb(224.3,224.3,224.3) 644px,rgb(220.5,220.5,220.5) 670px,rgb(217.3,217.3,217.3) 690px,rgb(214.6,214.6,214.6) 706px,rgb(212.1,212.1,212.1) 720px,rgb(210.3,210.3,210.3) 730px,rgb(208.3,208.3,208.3) 740px)"></i>
<i style="top:164px;background:linear-gradient(90deg,rgb(209.8,209.8,209.8) 0px,rgb(210.9,210.9,210.9) 6px,rgb(212.4,212.4,212.4) 14px,rgb(214.5,214.5,214.5) 26px,rgb(217.2,217.2,217.2) 42px,rgb(220.3,220.3,220.3) 62px,rgb(224.0,224.0,224.0) 88px,rgb(228.1,228.1,228.1) 120px,rgb(232.3,232.3,232.3) 160px,rgb(236.3,236.3,236.3) 210px,rgb(239.5,239.5,239.5) 270px,rgb(240.9,240.9,240.9) 330px,rgb(241.1,241.1,241.1) 366px,rgb(240.9,240.9,240.9) 402px,rgb(239.5,239.5,239.5) 462px,rgb(236.3,236.3,236.3) 522px,rgb(232.3,232.3,232.3) 572px,rgb(228.1,228.1,228.1) 612px,rgb(224.0,224.0,224.0) 644px,rgb(220.3,220.3,220.3) 670px,rgb(217.2,217.2,217.2) 690px,rgb(214.5,214.5,214.5) 706px,rgb(212.0,212.0,212.0) 720px,rgb(210.2,210.2,210.2) 730px,rgb(208.3,208.3,208.3) 740px)"></i>
<i style="top:168px;background:linear-gradient(90deg,rgb(209.8,209.8,209.8) 0px,rgb(210.9,210.9,210.9) 6px,rgb(212.3,212.3,212.3) 14px,rgb(214.4,214.4,214.4) 26px,rgb(217.0,217.0,217.0) 42px,rgb(220.1,220.1,220.1) 62px,rgb(223.8,223.8,223.8) 88px,rgb(227.8,227.8,227.8) 120px,rgb(232.0,232.0,232.0) 160px,rgb(236.0,236.0,236.0) 210px,rgb(239.1,239.1,239.1) 270px,rgb(240.5,240.5,240.5) 330px,rgb(240.7,240.7,240.7) 366px,rgb(240.5,240.5,240.5) 402px,rgb(239.1,239.1,239.1) 462px,rgb(236.0,236.0,236.0) 522px,rgb(232.0,232.0,232.0) 572px,rgb(227.8,227.8,227.8) 612px,rgb(223.8,223.8,223.8) 644px,rgb(220.1,220.1,220.1) 670px,rgb(217.0,217.0,217.0) 690px,rgb(214.4,214.4,214.4) 706px,rgb(212.0,212.0,212.0) 720px,rgb(210.1,210.1,210.1) 730px,rgb(208.3,208.3,208.3) 740px)"></i>
<i style="top:172px;background:linear-gradient(90deg,rgb(209.7,209.7,209.7) 0px,rgb(210.8,210.8,210.8) 6px,rgb(212.2,212.2,212.2) 14px,rgb(214.3,214.3,214.3) 26px,rgb(216.9,216.9,216.9) 42px,rgb(220.0,220.0,220.0) 62px,rgb(223.6,223.6,223.6) 88px,rgb(227.5,227.5,227.5) 120px,rgb(231.7,231.7,231.7) 160px,rgb(235.6,235.6,235.6) 210px,rgb(238.7,238.7,238.7) 270px,rgb(240.1,240.1,240.1) 330px,rgb(240.3,240.3,240.3) 366px,rgb(240.1,240.1,240.1) 402px,rgb(238.7,238.7,238.7) 462px,rgb(235.6,235.6,235.6) 522px,rgb(231.7,231.7,231.7) 572px,rgb(227.5,227.5,227.5) 612px,rgb(223.6,223.6,223.6) 644px,rgb(220.0,220.0,220.0) 670px,rgb(216.9,216.9,216.9) 690px,rgb(214.3,214.3,214.3) 706px,rgb(211.9,211.9,211.9) 720px,rgb(210.1,210.1,210.1) 730px,rgb(208.2,208.2,208.2) 740px)"></i>
<i style="top:176px;background:linear-gradient(90deg,rgb(209.7,209.7,209.7) 0px,rgb(210.7,210.7,210.7) 6px,rgb(212.1,212.1,212.1) 14px,rgb(214.2,214.2,214.2) 26px,rgb(216.8,216.8,216.8) 42px,rgb(219.8,219.8,219.8) 62px,rgb(223.4,223.4,223.4) 88px,rgb(227.3,227.3,227.3) 120px,rgb(231.3,231.3,231.3) 160px,rgb(235.2,235.2,235.2) 210px,rgb(238.3,238.3,238.3) 270px,rgb(239.7,239.7,239.7) 330px,rgb(239.9,239.9,239.9) 366px,rgb(239.7,239.7,239.7) 402px,rgb(238.3,238.3,238.3) 462px,rgb(235.2,235.2,235.2) 522px,rgb(231.3,231.3,231.3) 572px,rgb(227.3,227.3,227.3) 612px,rgb(223.4,223.4,223.4) 644px,rgb(219.8,219.8,219.8) 670px,rgb(216.8,216.8,216.8) 690px,rgb(214.2,214.2,214.2) 706px,rgb(211.8,211.8,211.8) 720px,rgb(210.0,210.0,210.0) 730px,rgb(208.2,208.2,208.2) 740px)"></i>
<i style="top:180px;background:linear-gradient(90deg,rgb(209.6,209.6,209.6) 0px,rgb(210.7,210.7,210.7) 6px,rgb(212.1,212.1,212.1) 14px,rgb(214.1,214.1,214.1) 26px,rgb(216.6,216.6,216.6) 42px,rgb(219.6,219.6,219.6) 62px,rgb(223.1,223.1,223.1) 88px,rgb(227.0,227.0,227.0) 120px,rgb(231.0,231.0,231.0) 160px,rgb(234.9,234.9,234.9) 210px,rgb(237.9,237.9,237.9) 270px,rgb(239.3,239.3,239.3) 330px,rgb(239.4,239.4,239.4) 366px,rgb(239.3,239.3,239.3) 402px,rgb(237.9,237.9,237.9) 462px,rgb(234.9,234.9,234.9) 522px,rgb(231.0,231.0,231.0) 572px,rgb(227.0,227.0,227.0) 612px,rgb(223.1,223.1,223.1) 644px,rgb(219.6,219.6,219.6) 670px,rgb(216.6,216.6,216.6) 690px,rgb(214.1,214.1,214.1) 706px,rgb(211.7,211.7,211.7) 720px,rgb(210.0,210.0,210.0) 730px,rgb(208.1,208.1,208.1) 740px)"></i>
<i style="top:184px;background:linear-gradient(90deg,rgb(209.5,209.5,209.5) 0px,rgb(210.6,210.6,210.6) 6px,rgb(212.0,212.0,212.0) 14px,rgb(214.0,214.0,214.0) 26px,rgb(216.5,216.5,216.5) 42px,rgb(219.4,219.4,219.4) 62px,rgb(222.9,222.9,222.9) 88px,rgb(226.7,226.7,226.7) 120px,rgb(230.7,230.7,230.7) 160px,rgb(234.5,234.5,234.5) 210px,rgb(237.5,237.5,237.5) 270px,rgb(238.8,238.8,238.8) 330px,rgb(239.0,239.0,239.0) 366px,rgb(238.8,238.8,238.8) 402px,rgb(237.5,237.5,237.5) 462px,rgb(234.5,234.5,234.5) 522px,rgb(230.7,230.7,230.7) 572px,rgb(226.7,226.7,226.7) 612px,rgb(222.9,222.9,222.9) 644px,rgb(219.4,219.4,219.4) 670px,rgb(216.5,216.5,216.5) 690px,rgb(214.0,214.0,214.0) 706px,rgb(211.6,211.6,211.6) 720px,rgb(209.9,209.9,209.9) 730px,rgb(208.1,208.1,208.1) 740px)"></i>
<i style="top:188px;background:linear-gradient(90deg,rgb(209.5,209.5,209.5) 0px,rgb(210.5,210.5,210.5) 6px,rgb(211.9,211.9,211.9) 14px,rgb(213.8,213.8,213.8) 26px,rgb(216.3,216.3,216.3) 42px,rgb(219.2,219.2,219.2) 62px,rgb(222.7,222.7,222.7) 88px,rgb(226.5,226.5,226.5) 120px,rgb(230.4,230.4,230.4) 160px,rgb(234.1,234.1,234.1) 210px,rgb(237.1,237.1,237.1) 270px,rgb(238.4,238.4,238.4) 330px,rgb(238.6,238.6,238.6) 366px,rgb(238.4,238.4,238.4) 402px,rgb(237.1,237.1,237.1) 462px,rgb(234.1,234.1,234.1) 522px,rgb(230.4,230.4,230.4) 572px,rgb(226.5,226.5,226.5) 612px,rgb(222.7,222.7,222.7) 644px,rgb(219.2,219.2,219.2) 670px,rgb(216.3,216.3,216.3) 690px,rgb(213.8,213.8,213.8) 706px,rgb(211.5,211.5,211.5) 720px,rgb(209.8,209.8,209.8) 730px,rgb(208.1,208.1,208.1) 740px)"></i>
<i style="top:192px;background:linear-gradient(90deg,rgb(209.4,209.4,209.4) 0px,rgb(210.5,210.5,210.5) 6px,rgb(211.8,211.8,211.8) 14px,rgb(213.7,213.7,213.7) 26px,rgb(216.2,216.2,216.2) 42px,rgb(219.1,219.1,219.1) 62px,rgb(222.5,222.5,222.5) 88px,rgb(226.2,226.2,226.2) 120px,rgb(230.1,230.1,230.1) 160px,rgb(233.8,233.8,233.8) 210px,rgb(236.7,236.7,236.7) 270px,rgb(238.0,238.0,238.0) 330px,rgb(238.2,238.2,238.2) 366px,rgb(238.0,238.0,238.0) 402px,rgb(236.7,236.7,236.7) 462px,rgb(233.8,233.8,233.8) 522px,rgb(230.1,230.1,230.1) 572px,rgb(226.2,226.2,226.2) 612px,rgb(222.5,222.5,222.5) 644px,rgb(219.1,219.1,219.1) 670px,rgb(216.2,216.2,216.2) 690px,rgb(213.7,213.7,213.7) 706px,rgb(211.5,211.5,211.5) 720px,rgb(209.8,209.8,209.8) 730px,rgb(208.0,208.0,208.0) 740px)"></i>
<i style="top:196px;background:linear-gradient(90deg,rgb(209.4,209.4,209.4) 0px,rgb(210.4,210.4,210.4) 6px,rgb(211.7,211.7,211.7) 14px,rgb(213.6,213.6,213.6) 26px,rgb(216.0,216.0,216.0) 42px,rgb(218.9,218.9,218.9) 62px,rgb(222.3,222.3,222.3) 88px,rgb(225.9,225.9,225.9) 120px,rgb(229.7,229.7,229.7) 160px,rgb(233.4,233.4,233.4) 210px,rgb(236.3,236.3,236.3) 270px,rgb(237.6,237.6,237.6) 330px,rgb(237.8,237.8,237.8) 366px,rgb(237.6,237.6,237.6) 402px,rgb(236.3,236.3,236.3) 462px,rgb(233.4,233.4,233.4) 522px,rgb(229.7,229.7,229.7) 572px,rgb(225.9,225.9,225.9) 612px,rgb(222.3,222.3,222.3) 644px,rgb(218.9,218.9,218.9) 670px,rgb(216.0,216.0,216.0) 690px,rgb(213.6,213.6,213.6) 706px,rgb(211.4,211.4,211.4) 720px,rgb(209.7,209.7,209.7) 730px,rgb(208.0,208.0,208.0) 740px)"></i>
<i style="top:200px;background:linear-gradient(90deg,rgb(209.3,209.3,209.3) 0px,rgb(210.3,210.3,210.3) 6px,rgb(211.6,211.6,211.6) 14px,rgb(213.5,213.5,213.5) 26px,rgb(215.9,215.9,215.9) 42px,rgb(218.7,218.7,218.7) 62px,rgb(222.0,222.0,222.0) 88px,rgb(225.6,225.6,225.6) 120px,rgb(229.4,229.4,229.4) 160px,rgb(233.0,233.0,233.0) 210px,rgb(235.9,235.9,235.9) 270px,rgb(237.2,237.2,237.2) 330px,rgb(237.3,237.3,237.3) 366px,rgb(237.2,237.2,237.2) 402px,rgb(235.9,235.9,235.9) 462px,rgb(233.0,233.0,233.0) 522px,rgb(229.4,229.4,229.4) 572px,rgb(225.6,225.6,225.6) 612px,rgb(222.0,222.0,222.0) 644px,rgb(218.7,218.7,218.7) 670px,rgb(215.9,215.9,215.9) 690px,rgb(213.5,213.5,213.5) 706px,rgb(211.2,211.2,211.2) 720px,rgb(209.6,209.6,209.6) 730px,rgb(207.9,207.9,207.9) 740px)"></i>
<i style="top:204px;background:linear-gradient(90deg,rgb(209.1,209.1,209.1) 0px,rgb(210.1,210.1,210.1) 6px,rgb(211.4,211.4,211.4) 14px,rgb(213.2,213.2,213.2) 26px,rgb(215.6,215.6,215.6) 42px,rgb(218.4,218.4,218.4) 62px,rgb(221.7,221.7,221.7) 88px,rgb(225.3,225.3,225.3) 120px,rgb(229.1,229.1,229.1) 160px,rgb(232.7,232.7,232.7) 210px,rgb(235.5,235.5,235.5) 270px,rgb(236.7,236.7,236.7) 330px,rgb(236.9,236.9,236.9) 366px,rgb(236.7,236.7,236.7) 402px,rgb(235.5,235.5,235.5) 462px,rgb(232.7,232.7,232.7) 522px,rgb(229.1,229.1,229.1) 572px,rgb(225.3,225.3,225.3) 612px,rgb(221.7,221.7,221.7) 644px,rgb(218.4,218.4,218.4) 670px,rgb(215.6,215.6,215.6) 690px,rgb(213.2,213.2,213.2) 706px,rgb(211.0,211.0,211.0) 720px,rgb(209.4,209.4,209.4) 730px,rgb(207.7,207.7,207.7) 740px)"></i>
<i style="top:208px;background:linear-gradient(90deg,rgb(208.9,208.9,208.9) 0px,rgb(209.9,209.9,209.9) 6px,rgb(211.2,211.2,211.2) 14px,rgb(213.0,213.0,213.0) 26px,rgb(215.4,215.4,215.4) 42px,rgb(218.1,218.1,218.1) 62px,rgb(221.4,221.4,221.4) 88px,rgb(225.0,225.0,225.0) 120px,rgb(228.7,228.7,228.7) 160px,rgb(232.3,232.3,232.3) 210px,rgb(235.0,235.0,235.0) 270px,rgb(236.3,236.3,236.3) 330px,rgb(236.5,236.5,236.5) 366px,rgb(236.3,236.3,236.3) 402px,rgb(235.0,235.0,235.0) 462px,rgb(232.3,232.3,232.3) 522px,rgb(228.7,228.7,228.7) 572px,rgb(225.0,225.0,225.0) 612px,rgb(221.4,221.4,221.4) 644px,rgb(218.1,218.1,218.1) 670px,rgb(215.4,215.4,215.4) 690px,rgb(213.0,213.0,213.0) 706px,rgb(210.8,210.8,210.8) 720px,rgb(209.2,209.2,209.2) 730px,rgb(207.6,207.6,207.6) 740px)"></i>
<i style="top:212px;background:linear-gradient(90deg,rgb(208.7,208.7,208.7) 0px,rgb(209.7,209.7,209.7) 6px,rgb(211.0,211.0,211.0) 14px,rgb(212.8,212.8,212.8) 26px,rgb(215.2,215.2,215.2) 42px,rgb(217.9,217.9,217.9) 62px,rgb(221.1,221.1,221.1) 88px,rgb(224.7,224.7,224.7) 120px,rgb(228.3,228.3,228.3) 160px,rgb(231.9,231.9,231.9) 210px,rgb(234.6,234.6,234.6) 270px,rgb(235.9,235.9,235.9) 330px,rgb(236.1,236.1,236.1) 366px,rgb(235.9,235.9,235.9) 402px,rgb(234.6,234.6,234.6) 462px,rgb(231.9,231.9,231.9) 522px,rgb(228.3,228.3,228.3) 572px,rgb(224.7,224.7,224.7) 612px,rgb(221.1,221.1,221.1) 644px,rgb(217.9,217.9,217.9) 670px,rgb(215.2,215.2,215.2) 690px,rgb(212.8,212.8,212.8) 706px,rgb(210.7,210.7,210.7) 720px,rgb(209.0,209.0,209.0) 730px,rgb(207.4,207.4,207.4) 740px)"></i>
<i style="top:216px;background:linear-gradient(90deg,rgb(208.5,208.5,208.5) 0px,rgb(209.5,209.5,209.5) 6px,rgb(210.8,210.8,210.8) 14px,rgb(212.6,212.6,212.6) 26px,rgb(214.9,214.9,214.9) 42px,rgb(217.6,217.6,217.6) 62px,rgb(220.8,220.8,220.8) 88px,rgb(224.3,224.3,224.3) 120px,rgb(228.0,228.0,228.0) 160px,rgb(231.5,231.5,231.5) 210px,rgb(234.2,234.2,234.2) 270px,rgb(235.5,235.5,235.5) 330px,rgb(235.6,235.6,235.6) 366px,rgb(235.5,235.5,235.5) 402px,rgb(234.2,234.2,234.2) 462px,rgb(231.5,231.5,231.5) 522px,rgb(228.0,228.0,228.0) 572px,rgb(224.3,224.3,224.3) 612px,rgb(220.8,220.8,220.8) 644px,rgb(217.6,217.6,217.6) 670px,rgb(214.9,214.9,214.9) 690px,rgb(212.6,212.6,212.6) 706px,rgb(210.5,210.5,210.5) 720px,rgb(208.9,208.9,208.9) 730px,rgb(207.2,207.2,207.2) 740px)"></i>
<i style="top:220px;background:linear-gradient(90deg,rgb(208.4,208.4,208.4) 0px,rgb(209.3,209.3,209.3) 6px,rgb(210.6,210.6,210.6) 14px,rgb(212.4,212.4,212.4) 26px,rgb(214.7,214.7,214.7) 42px,rgb(217.4,217.4,217.4) 62px,rgb(220.6,220.6,220.6) 88px,rgb(224.0,224.0,224.0) 120px,rgb(227.6,227.6,227.6) 160px,rgb(231.1,231.1,231.1) 210px,rgb(233.8,233.8,233.8) 270px,rgb(235.1,235.1,235.1) 330px,rgb(235.2,235.2,235.2) 366px,rgb(235.1,235.1,235.1) 402px,rgb(233.8,233.8,233.8) 462px,rgb(231.1,231.1,231.1) 522px,rgb(227.6,227.6,227.6) 572px,rgb(224.0,224.0,224.0) 612px,rgb(220.6,220.6,220.6) 644px,rgb(217.4,217.4,217.4) 670px,rgb(214.7,214.7,214.7) 690px,rgb(212.4,212.4,212.4) 706px,rgb(210.3,210.3,210.3) 720px,rgb(208.7,208.7,208.7) 730px,rgb(207.0,207.0,207.0) 740px)"></i>
<i style="top:224px;background:linear-gradient(90deg,rgb(208.2,208.2,208.2) 0px,rgb(209.1,209.1,209.1) 6px,rgb(210.4,210.4,210.4) 14px,rgb(212.2,212.2,212.2) 26px,rgb(214.4,214.4,214.4) 42px,rgb(217.1,217.1,217.1) 62px,rgb(220.3,220.3,220.3) 88px,rgb(223.7,223.7,223.7) 120px,rgb(227.3,227.3,227.3) 160px,rgb(230.7,230.7,230.7) 210px,rgb(233.4,233.4,233.4) 270px,rgb(234.6,234.6,234.6) 330px,rgb(234.8,234.8,234.8) 366px,rgb(234.6,234.6,234.6) 402px,rgb(233.4,233.4,233.4) 462px,rgb(230.7,230.7,230.7) 522px,rgb(227.3,227.3,227.3) 572px,rgb(223.7,223.7,223.7) 612px,rgb(220.3,220.3,220.3) 644px,rgb(217.1,217.1,217.1) 670px,rgb(214.4,214.4,214.4) 690px,rgb(212.2,212.2,212.2) 706px,rgb(210.1,210.1,210.1) 720px,rgb(208.5,208.5,208.5) 730px,rgb(206.9,206.9,206.9) 740px)"></i>
<i style="top:228px;background:linear-gradient(90deg,rgb(208.0,208.0,208.0) 0px,rgb(208.9,208.9,208.9) 6px,rgb(210.2,210.2,210.2) 14px,rgb(211.9,211.9,211.9) 26px,rgb(214.2,214.2,214.2) 42px,rgb(216.8,216.8,216.8) 62px,rgb(220.0,220.0,220.0) 88px,rgb(223.4,223.4,223.4) 120px,rgb(226.9,226.9,226.9) 160px,rgb(230.3,230.3,230.3) 210px,rgb(233.0,233.0,233.0) 270px,rgb(234.2,234.2,234.2) 330px,rgb(234.4,234.4,234.4) 366px,rgb(234.2,234.2,234.2) 402px,rgb(233.0,233.0,233.0) 462px,rgb(230.3,230.3,230.3) 522px,rgb(226.9,226.9,226.9) 572px,rgb(223.4,223.4,223.4) 612px,rgb(220.0,220.0,220.0) 644px,rgb(216.8,216.8,216.8) 670px,rgb(214.2,214.2,214.2) 690px,rgb(211.9,211.9,211.9) 706px,rgb(209.9,209.9,209.9) 720px,rgb(208.3,208.3,208.3) 730px,rgb(206.7,206.7,206.7) 740px)"></i>
<i style="top:232px;background:linear-gradient(90deg,rgb(207.8,207.8,207.8) 0px,rgb(208.7,208.7,208.7) 6px,rgb(210.0,210.0,210.0) 14px,rgb(211.7,211.7,211.7) 26px,rgb(214.0,214.0,214.0) 42px,rgb(216.6,216.6,216.6) 62px,rgb(219.7,219.7,219.7) 88px,rgb(223.0,223.0,223.0) 120px,rgb(226.6,226.6,226.6) 160px,rgb(229.9,229.9,229.9) 210px,rgb(232.6,232.6,232.6) 270px,rgb(233.8,233.8,233.8) 330px,rgb(234.0,234.0,234.0) 366px,rgb(233.8,233.8,233.8) 402px,rgb(232.6,232.6,232.6) 462px,rgb(229.9,229.9,229.9) 522px,rgb(226.6,226.6,226.6) 572px,rgb(223.0,223.0,223.0) 612px,rgb(219.7,219.7,219.7) 644px,rgb(216.6,216.6,216.6) 670px,rgb(214.0,214.0,214.0) 690px,rgb(211.7,211.7,211.7) 706px,rgb(209.7,209.7,209.7) 720px,rgb(208.1,208.1,208.1) 730px,rgb(206.5,206.5,206.5) 740px)"></i>
<i style="top:236px;background:linear-gradient(90deg,rgb(207.6,207.6,207.6) 0px,rgb(208.5,208.5,208.5) 6px,rgb(209.8,209.8,209.8) 14px,rgb(211.5,211.5,211.5) 26px,rgb(213.7,213.7,213.7) 42px,rgb(216.3,216.3,216.3) 62px,rgb(219.4,219.4,219.4) 88px,rgb(222.7,222.7,222.7) 120px,rgb(226.2,226.2,226.2) 160px,rgb(229.6,229.6,229.6) 210px,rgb(232.2,232.2,232.2) 270px,rgb(233.4,233.4,233.4) 330px,rgb(233.5,233.5,233.5) 366px,rgb(233.4,233.4,233.4) 402px,rgb(232.2,232.2,232.2) 462px,rgb(229.6,229.6,229.6) 522px,rgb(226.2,226.2,226.2) 572px,rgb(222.7,222.7,222.7) 612px,rgb(219.4,219.4,219.4) 644px,rgb(216.3,216.3,216.3) 670px,rgb(213.7,213.7,213.7) 690px,rgb(211.5,211.5,211.5) 706px,rgb(209.5,209.5,209.5) 720px,rgb(207.9,207.9,207.9) 730px,rgb(206.4,206.4,206.4) 740px)"></i>
<i style="top:240px;background:linear-gradient(90deg,rgb(207.4,207.4,207.4) 0px,rgb(208.4,208.4,208.4) 6px,rgb(209.6,209.6,209.6) 14px,rgb(211.3,211.3,211.3) 26px,rgb(213.5,213.5,213.5) 42px,rgb(216.0,216.0,216.0) 62px,rgb(219.1,219.1,219.1) 88px,rgb(222.4,222.4,222.4) 120px,rgb(225.9,225.9,225.9) 160px,rgb(229.2,229.2,229.2) 210px,rgb(231.8,231.8,231.8) 270px,rgb(232.9,232.9,232.9) 330px,rgb(233.1,233.1,233.1) 366px,rgb(232.9,232.9,232.9) 402px,rgb(231.8,231.8,231.8) 462px,rgb(229.2,229.2,229.2) 522px,rgb(225.9,225.9,225.9) 572px,rgb(222.4,222.4,222.4) 612px,rgb(219.1,219.1,219.1) 644px,rgb(216.0,216.0,216.0) 670px,rgb(213.5,213.5,213.5) 690px,rgb(211.3,211.3,211.3) 706px,rgb(209.3,209.3,209.3) 720px,rgb(207.7,207.7,207.7) 730px,rgb(206.2,206.2,206.2) 740px)"></i>
<i style="top:244px;background:linear-gradient(90deg,rgb(207.3,207.3,207.3) 0px,rgb(208.2,208.2,208.2) 6px,rgb(209.4,209.4,209.4) 14px,rgb(211.1,211.1,211.1) 26px,rgb(213.2,213.2,213.2) 42px,rgb(215.8,215.8,215.8) 62px,rgb(218.8,218.8,218.8) 88px,rgb(222.1,222.1,222.1) 120px,rgb(225.5,225.5,225.5) 160px,rgb(228.8,228.8,228.8) 210px,rgb(231.3,231.3,231.3) 270px,rgb(232.5,232.5,232.5) 330px,rgb(232.7,232.7,232.7) 366px,rgb(232.5,232.5,232.5) 402px,rgb(231.3,231.3,231.3) 462px,rgb(228.8,228.8,228.8) 522px,rgb(225.5,225.5,225.5) 572px,rgb(222.1,222.1,222.1) 612px,rgb(218.8,218.8,218.8) 644px,rgb(215.8,215.8,215.8) 670px,rgb(213.2,213.2,213.2) 690px,rgb(211.1,211.1,211.1) 706px,rgb(209.1,209.1,209.1) 720px,rgb(207.6,207.6,207.6) 730px,rgb(206.0,206.0,206.0) 740px)"></i>
<i style="top:248px;background:linear-gradient(90deg,rgb(207.1,207.1,207.1) 0px,rgb(208.0,208.0,208.0) 6px,rgb(209.1,209.1,209.1) 14px,rgb(210.8,210.8,210.8) 26px,rgb(213.0,213.0,213.0) 42px,rgb(215.5,215.5,215.5) 62px,rgb(218.5,218.5,218.5) 88px,rgb(221.8,221.8,221.8) 120px,rgb(225.1,225.1,225.1) 160px,rgb(228.4,228.4,228.4) 210px,rgb(230.9,230.9,230.9) 270px,rgb(232.1,232.1,232.1) 330px,rgb(232.3,232.3,232.3) 366px,rgb(232.1,232.1,232.1) 402px,rgb(230.9,230.9,230.9) 462px,rgb(228.4,228.4,228.4) 522px,rgb(225.1,225.1,225.1) 572px,rgb(221.8,221.8,221.8) 612px,rgb(218.5,218.5,218.5) 644px,rgb(215.5,215.5,215.5) 670px,rgb(213.0,213.0,213.0) 690px,rgb(210.8,210.8,210.8) 706px,rgb(208.9,208.9,208.9) 720px,rgb(207.4,207.4,207.4) 730px,rgb(205.9,205.9,205.9) 740px)"></i>
<i style="top:252px;background:linear-gradient(90deg,rgb(206.9,206.9,206.9) 0px,rgb(207.8,207.8,207.8) 6px,rgb(208.9,208.9,208.9) 14px,rgb(210.6,210.6,210.6) 26px,rgb(212.8,212.8,212.8) 42px,rgb(215.3,215.3,215.3) 62px,rgb(218.2,218.2,218.2) 88px,rgb(221.4,221.4,221.4) 120px,rgb(224.8,224.8,224.8) 160px,rgb(228.0,228.0,228.0) 210px,rgb(230.5,230.5,230.5) 270px,rgb(231.7,231.7,231.7) 330px,rgb(231.8,231.8,231.8) 366px,rgb(231.7,231.7,231.7) 402px,rgb(230.5,230.5,230.5) 462px,rgb(228.0,228.0,228.0) 522px,rgb(224.8,224.8,224.8) 572px,rgb(221.4,221.4,221.4) 612px,rgb(218.2,218.2,218.2) 644px,rgb(215.3,215.3,215.3) 670px,rgb(212.8,212.8,212.8) 690px,rgb(210.6,210.6,210.6) 706px,rgb(208.7,208.7,208.7) 720px,rgb(207.2,207.2,207.2) 730px,rgb(205.7,205.7,205.7) 740px)"></i>
<i style="top:256px;background:linear-gradient(90deg,rgb(206.7,206.7,206.7) 0px,rgb(207.6,207.6,207.6) 6px,rgb(208.7,208.7,208.7) 14px,rgb(210.4,210.4,210.4) 26px,rgb(212.5,212.5,212.5) 42px,rgb(215.0,215.0,215.0) 62px,rgb(217.9,217.9,217.9) 88px,rgb(221.1,221.1,221.1) 120px,rgb(224.4,224.4,224.4) 160px,rgb(227.6,227.6,227.6) 210px,rgb(230.1,230.1,230.1) 270px,rgb(231.3,231.3,231.3) 330px,rgb(231.4,231.4,231.4) 366px,rgb(231.3,231.3,231.3) 402px,rgb(230.1,230.1,230.1) 462px,rgb(227.6,227.6,227.6) 522px,rgb(224.4,224.4,224.4) 572px,rgb(221.1,221.1,221.1) 612px,rgb(217.9,217.9,217.9) 644px,rgb(215.0,215.0,215.0) 670px,rgb(212.5,212.5,212.5) 690px,rgb(210.4,210.4,210.4) 706px,rgb(208.5,208.5,208.5) 720px,rgb(207.0,207.0,207.0) 730px,rgb(205.5,205.5,205.5) 740px)"></i>
<i style="top:260px;background:linear-gradient(90deg,rgb(206.5,206.5,206.5) 0px,rgb(207.4,207.4,207.4) 6px,rgb(208.5,208.5,208.5) 14px,rgb(210.2,210.2,210.2) 26px,rgb(212.3,212.3,212.3) 42px,rgb(214.7,214.7,214.7) 62px,rgb(217.6,217.6,217.6) 88px,rgb(220.8,220.8,220.8) 120px,rgb(224.1,224.1,224.1) 160px,rgb(227.2,227.2,227.2) 210px,rgb(229.7,229.7,229.7) 270px,rgb(230.8,230.8,230.8) 330px,rgb(231.0,231.0,231.0) 366px,rgb(230.8,230.8,230.8) 402px,rgb(229.7,229.7,229.7) 462px,rgb(227.2,227.2,227.2) 522px,rgb(224.1,224.1,224.1) 572px,rgb(220.8,220.8,220.8) 612px,rgb(217.6,217.6,217.6) 644px,rgb(214.7,214.7,214.7) 670px,rgb(212.3,212.3,212.3) 690px,rgb(210.2,210.2,210.2) 706px,rgb(208.3,208.3,208.3) 720px,rgb(206.8,206.8,206.8) 730px,rgb(205.3,205.3,205.3) 740px)"></i>
<i style="top:264px;background:linear-gradient(90deg,rgb(206.3,206.3,206.3) 0px,rgb(207.2,207.2,207.2) 6px,rgb(208.3,208.3,208.3) 14px,rgb(210.0,210.0,210.0) 26px,rgb(212.0,212.0,212.0) 42px,rgb(214.5,214.5,214.5) 62px,rgb(217.3,217.3,217.3) 88px,rgb(220.5,220.5,220.5) 120px,rgb(223.7,223.7,223.7) 160px,rgb(226.9,226.9,226.9) 210px,rgb(229.3,229.3,229.3) 270px,rgb(230.4,230.4,230.4) 330px,rgb(230.6,230.6,230.6) 366px,rgb(230.4,230.4,230.4) 402px,rgb(229.3,229.3,229.3) 462px,rgb(226.9,226.9,226.9) 522px,rgb(223.7,223.7,223.7) 572px,rgb(220.5,220.5,220.5) 612px,rgb(217.3,217.3,217.3) 644px,rgb(214.5,214.5,214.5) 670px,rgb(212.0,212.0,212.0) 690px,rgb(210.0,210.0,210.0) 706px,rgb(208.1,208.1,208.1) 720px,rgb(206.6,206.6,206.6) 730px,rgb(205.2,205.2,205.2) 740px)"></i>
<i style="top:268px;background:linear-gradient(90deg,rgb(206.2,206.2,206.2) 0px,rgb(207.0,207.0,207.0) 6px,rgb(208.1,208.1,208.1) 14px,rgb(209.8,209.8,209.8) 26px,rgb(211.8,211.8,211.8) 42px,rgb(214.2,214.2,214.2) 62px,rgb(217.1,217.1,217.1) 88px,rgb(220.1,220.1,220.1) 120px,rgb(223.4,223.4,223.4) 160px,rgb(226.5,226.5,226.5) 210px,rgb(228.9,228.9,228.9) 270px,rgb(230.0,230.0,230.0) 330px,rgb(230.1,230.1,230.1) 366px,rgb(230.0,230.0,230.0) 402px,rgb(228.9,228.9,228.9) 462px,rgb(226.5,226.5,226.5) 522px,rgb(223.4,223.4,223.4) 572px,rgb(220.1,220.1,220.1) 612px,rgb(217.1,217.1,217.1) 644px,rgb(214.2,214.2,214.2) 670px,rgb(211.8,211.8,211.8) 690px,rgb(209.8,209.8,209.8) 706px,rgb(207.9,207.9,207.9) 720px,rgb(206.5,206.5,206.5) 730px,rgb(205.0,205.0,205.0) 740px)"></i>
<i style="top:272px;background:linear-gradient(90deg,rgb(206.0,206.0,206.0) 0px,rgb(206.8,206.8,206.8) 6px,rgb(207.9,207.9,207.9) 14px,rgb(209.5,209.5,209.5) 26px,rgb(211.6,211.6,211.6) 42px,rgb(213.9,213.9,213.9) 62px,rgb(216.8,216.8,216.8) 88px,rgb(219.8,219.8,219.8) 120px,rgb(223.0,223.0,223.0) 160px,rgb(226.1,226.1,226.1) 210px,rgb(228.5,228.5,228.5) 270px,rgb(229.6,229.6,229.6) 330px,rgb(229.7,229.7,229.7) 366px,rgb(229.6,229.6,229.6) 402px,rgb(228.5,228.5,228.5) 462px,rgb(226.1,226.1,226.1) 522px,rgb(223.0,223.0,223.0) 572px,rgb(219.8,219.8,219.8) 612px,rgb(216.8,216.8,216.8) 644px,rgb(213.9,213.9,213.9) 670px,rgb(211.6,211.6,211.6) 690px,rgb(209.5,209.5,209.5) 706px,rgb(207.7,207.7,207.7) 720px,rgb(206.3,206.3,206.3) 730px,rgb(204.8,204.8,204.8) 740px)"></i>
<i style="top:276px;background:linear-gradient(90deg,rgb(205.8,205.8,205.8) 0px,rgb(206.6,206.6,206.6) 6px,rgb(207.7,207.7,207.7) 14px,rgb(209.3,209.3,209.3) 26px,rgb(211.3,211.3,211.3) 42px,rgb(213.7,213.7,213.7) 62px,rgb(216.5,216.5,216.5) 88px,rgb(219.5,219.5,219.5) 120px,rgb(222.7,222.7,222.7) 160px,rgb(225.7,225.7,225.7) 210px,rgb(228.1,228.1,228.1) 270px,rgb(229.2,229.2,229.2) 330px,rgb(229.3,229.3,229.3) 366px,rgb(229.2,229.2,229.2) 402px,rgb(228.1,228.1,228.1) 462px,rgb(225.7,225.7,225.7) 522px,rgb(222.7,222.7,222.7) 572px,rgb(219.5,219.5,219.5) 612px,rgb(216.5,216.5,216.5) 644px,rgb(213.7,213.7,213.7) 670px,rgb(211.3,211.3,211.3) 690px,rgb(209.3,209.3,209.3) 706px,rgb(207.5,207.5,207.5) 720px,rgb(206.1,206.1,206.1) 730px,rgb(204.7,204.7,204.7) 740px)"></i>
<i style="top:280px;background:linear-gradient(90deg,rgb(205.6,205.6,205.6) 0px,rgb(206.5,206.5,206.5) 6px,rgb(207.5,207.5,207.5) 14px,rgb(209.1,209.1,209.1) 26px,rgb(211.1,211.1,211.1) 42px,rgb(213.4,213.4,213.4) 62px,rgb(216.2,216.2,216.2) 88px,rgb(219.2,219.2,219.2) 120px,rgb(222.3,222.3,222.3) 160px,rgb(225.3,225.3,225.3) 210px,rgb(227.6,227.6,227.6) 270px,rgb(228.7,228.7,228.7) 330px,rgb(228.9,228.9,228.9) 366px,rgb(228.7,228.7,228.7) 402px,rgb(227.6,227.6,227.6) 462px,rgb(225.3,225.3,225.3) 522px,rgb(222.3,222.3,222.3) 572px,rgb(219.2,219.2,219.2) 612px,rgb(216.2,216.2,216.2) 644px,rgb(213.4,213.4,213.4) 670px,rgb(211.1,211.1,211.1) 690px,rgb(209.1,209.1,209.1) 706px,rgb(207.3,207.3,207.3) 720px,rgb(205.9,205.9,205.9) 730px,rgb(204.5,204.5,204.5) 740px)"></i>
<i style="top:284px;background:linear-gradient(90deg,rgb(205.5,205.5,205.5) 0px,rgb(206.3,206.3,206.3) 6px,rgb(207.3,207.3,207.3) 14px,rgb(208.9,208.9,208.9) 26px,rgb(210.9,210.9,210.9) 42px,rgb(213.2,213.2,213.2) 62px,rgb(215.9,215.9,215.9) 88px,rgb(218.9,218.9,218.9) 120px,rgb(222.0,222.0,222.0) 160px,rgb(224.9,224.9,224.9) 210px,rgb(227.3,227.3,227.3) 270px,rgb(228.3,228.3,228.3) 330px,rgb(228.5,228.5,228.5) 366px,rgb(228.3,228.3,228.3) 402px,rgb(227.3,227.3,227.3) 462px,rgb(224.9,224.9,224.9) 522px,rgb(222.0,222.0,222.0) 572px,rgb(218.9,218.9,218.9) 612px,rgb(215.9,215.9,215.9) 644px,rgb(213.2,213.2,213.2) 670px,rgb(210.9,210.9,210.9) 690px,rgb(208.9,208.9,208.9) 706px,rgb(207.1,207.1,207.1) 720px,rgb(205.7,205.7,205.7) 730px,rgb(204.3,204.3,204.3) 740px)"></i>
<i style="top:288px;background:linear-gradient(90deg,rgb(205.4,205.4,205.4) 0px,rgb(206.2,206.2,206.2) 6px,rgb(207.3,207.3,207.3) 14px,rgb(208.8,208.8,208.8) 26px,rgb(210.8,210.8,210.8) 42px,rgb(213.0,213.0,213.0) 62px,rgb(215.7,215.7,215.7) 88px,rgb(218.7,218.7,218.7) 120px,rgb(221.7,221.7,221.7) 160px,rgb(224.7,224.7,224.7) 210px,rgb(227.0,227.0,227.0) 270px,rgb(228.0,228.0,228.0) 330px,rgb(228.2,228.2,228.2) 366px,rgb(228.0,228.0,228.0) 402px,rgb(227.0,227.0,227.0) 462px,rgb(224.7,224.7,224.7) 522px,rgb(221.7,221.7,221.7) 572px,rgb(218.7,218.7,218.7) 612px,rgb(215.7,215.7,215.7) 644px,rgb(213.0,213.0,213.0) 670px,rgb(210.8,210.8,210.8) 690px,rgb(208.8,208.8,208.8) 706px,rgb(207.0,207.0,207.0) 720px,rgb(205.7,205.7,205.7) 730px,rgb(204.3,204.3,204.3) 740px)"></i>
<i style="top:292px;background:linear-gradient(90deg,rgb(205.4,205.4,205.4) 0px,rgb(206.2,206.2,206.2) 6px,rgb(207.2,207.2,207.2) 14px,rgb(208.7,208.7,208.7) 26px,rgb(210.7,210.7,210.7) 42px,rgb(212.9,212.9,212.9) 62px,rgb(215.6,215.6,215.6) 88px,rgb(218.5,218.5,218.5) 120px,rgb(221.5,221.5,221.5) 160px,rgb(224.4,224.4,224.4) 210px,rgb(226.7,226.7,226.7) 270px,rgb(227.8,227.8,227.8) 330px,rgb(227.9,227.9,227.9) 366px,rgb(227.8,227.8,227.8) 402px,rgb(226.7,226.7,226.7) 462px,rgb(224.4,224.4,224.4) 522px,rgb(221.5,221.5,221.5) 572px,rgb(218.5,218.5,218.5) 612px,rgb(215.6,215.6,215.6) 644px,rgb(212.9,212.9,212.9) 670px,rgb(210.7,210.7,210.7) 690px,rgb(208.7,208.7,208.7) 706px,rgb(207.0,207.0,207.0) 720px,rgb(205.6,205.6,205.6) 730px,rgb(204.3,204.3,204.3) 740px)"></i>
<i style="top:296px;background:linear-gradient(90deg,rgb(205.3,205.3,205.3) 0px,rgb(206.1,206.1,206.1) 6px,rgb(207.2,207.2,207.2) 14px,rgb(208.7,208.7,208.7) 26px,rgb(210.6,210.6,210.6) 42px,rgb(212.8,212.8,212.8) 62px,rgb(215.4,215.4,215.4) 88px,rgb(218.3,218.3,218.3) 120px,rgb(221.3,221.3,221.3) 160px,rgb(224.2,224.2,224.2) 210px,rgb(226.4,226.4,226.4) 270px,rgb(227.5,227.5,227.5) 330px,rgb(227.6,227.6,227.6) 366px,rgb(227.5,227.5,227.5) 402px,rgb(226.4,226.4,226.4) 462px,rgb(224.2,224.2,224.2) 522px,rgb(221.3,221.3,221.3) 572px,rgb(218.3,218.3,218.3) 612px,rgb(215.4,215.4,215.4) 644px,rgb(212.8,212.8,212.8) 670px,rgb(210.6,210.6,210.6) 690px,rgb(208.7,208.7,208.7) 706px,rgb(206.9,206.9,206.9) 720px,rgb(205.6,205.6,205.6) 730px,rgb(204.2,204.2,204.2) 740px)"></i>
<i style="top:300px;background:linear-gradient(90deg,rgb(205.2,205.2,205.2) 0px,rgb(206.0,206.0,206.0) 6px,rgb(207.0,207.0,207.0) 14px,rgb(208.5,208.5,208.5) 26px,rgb(210.4,210.4,210.4) 42px,rgb(212.6,212.6,212.6) 62px,rgb(215.3,215.3,215.3) 88px,rgb(218.1,218.1,218.1) 120px,rgb(221.1,221.1,221.1) 160px,rgb(223.9,223.9,223.9) 210px,rgb(226.2,226.2,226.2) 270px,rgb(227.2,227.2,227.2) 330px,rgb(227.3,227.3,227.3) 366px,rgb(227.2,227.2,227.2) 402px,rgb(226.2,226.2,226.2) 462px,rgb(223.9,223.9,223.9) 522px,rgb(221.1,221.1,221.1) 572px,rgb(218.1,218.1,218.1) 612px,rgb(215.3,215.3,215.3) 644px,rgb(212.6,212.6,212.6) 670px,rgb(210.4,210.4,210.4) 690px,rgb(208.5,208.5,208.5) 706px,rgb(206.8,206.8,206.8) 720px,rgb(205.5,205.5,205.5) 730px,rgb(204.1,204.1,204.1) 740px)"></i>
<i style="top:304px;background:linear-gradient(90deg,rgb(205.0,205.0,205.0) 0px,rgb(205.8,205.8,205.8) 6px,rgb(206.8,206.8,206.8) 14px,rgb(208.3,208.3,208.3) 26px,rgb(210.2,210.2,210.2) 42px,rgb(212.4,212.4,212.4) 62px,rgb(215.0,215.0,215.0) 88px,rgb(217.9,217.9,217.9) 120px,rgb(220.8,220.8,220.8) 160px,rgb(223.7,223.7,223.7) 210px,rgb(225.9,225.9,225.9) 270px,rgb(226.9,226.9,226.9) 330px,rgb(227.0,227.0,227.0) 366px,rgb(226.9,226.9,226.9) 402px,rgb(225.9,225.9,225.9) 462px,rgb(223.7,223.7,223.7) 522px,rgb(220.8,220.8,220.8) 572px,rgb(217.9,217.9,217.9) 612px,rgb(215.0,215.0,215.0) 644px,rgb(212.4,212.4,212.4) 670px,rgb(210.2,210.2,210.2) 690px,rgb(208.3,208.3,208.3) 706px,rgb(206.6,206.6,206.6) 720px,rgb(205.3,205.3,205.3) 730px,rgb(204.0,204.0,204.0) 740px)"></i>
<i style="top:308px;background:linear-gradient(90deg,rgb(204.9,204.9,204.9) 0px,rgb(205.6,205.6,205.6) 6px,rgb(206.7,206.7,206.7) 14px,rgb(208.1,208.1,208.1) 26px,rgb(210.0,210.0,210.0) 42px,rgb(212.2,212.2,212.2) 62px,rgb(214.8,214.8,214.8) 88px,rgb(217.6,217.6,217.6) 120px,rgb(220.6,220.6,220.6) 160px,rgb(223.4,223.4,223.4) 210px,rgb(225.6,225.6,225.6) 270px,rgb(226.6,226.6,226.6) 330px,rgb(226.8,226.8,226.8) 366px,rgb(226.6,226.6,226.6) 402px,rgb(225.6,225.6,225.6) 462px,rgb(223.4,223.4,223.4) 522px,rgb(220.6,220.6,220.6) 572px,rgb(217.6,217.6,217.6) 612px,rgb(214.8,214.8,214.8) 644px,rgb(212.2,212.2,212.2) 670px,rgb(210.0,210.0,210.0) 690px,rgb(208.1,208.1,208.1) 706px,rgb(206.4,206.4,206.4) 720px,rgb(205.1,205.1,205.1) 730px,rgb(203.8,203.8,203.8) 740px)"></i>
<i style="top:312px;background:linear-gradient(90deg,rgb(204.7,204.7,204.7) 0px,rgb(205.4,205.4,205.4) 6px,rgb(206.5,206.5,206.5) 14px,rgb(207.9,207.9,207.9) 26px,rgb(209.8,209.8,209.8) 42px,rgb(212.0,212.0,212.0) 62px,rgb(214.6,214.6,214.6) 88px,rgb(217.4,217.4,217.4) 120px,rgb(220.3,220.3,220.3) 160px,rgb(223.1,223.1,223.1) 210px,rgb(225.3,225.3,225.3) 270px,rgb(226.3,226.3,226.3) 330px,rgb(226.5,226.5,226.5) 366px,rgb(226.3,226.3,226.3) 402px,rgb(225.3,225.3,225.3) 462px,rgb(223.1,223.1,223.1) 522px,rgb(220.3,220.3,220.3) 572px,rgb(217.4,217.4,217.4) 612px,rgb(214.6,214.6,214.6) 644px,rgb(212.0,212.0,212.0) 670px,rgb(209.8,209.8,209.8) 690px,rgb(207.9,207.9,207.9) 706px,rgb(206.2,206.2,206.2) 720px,rgb(204.9,204.9,204.9) 730px,rgb(203.6,203.6,203.6) 740px)"></i>
<i style="top:316px;background:linear-gradient(90deg,rgb(204.5,204.5,204.5) 0px,rgb(205.3,205.3,205.3) 6px,rgb(206.3,206.3,206.3) 14px,rgb(207.7,207.7,207.7) 26px,rgb(209.6,209.6,209.6) 42px,rgb(211.8,211.8,211.8) 62px,rgb(214.3,214.3,214.3) 88px,rgb(217.1,217.1,217.1) 120px,rgb(220.1,220.1,220.1) 160px,rgb(222.9,222.9,222.9) 210px,rgb(225.0,225.0,225.0) 270px,rgb(226.0,226.0,226.0) 330px,rgb(226.2,226.2,226.2) 366px,rgb(226.0,226.0,226.0) 402px,rgb(225.0,225.0,225.0) 462px,rgb(222.9,222.9,222.9) 522px,rgb(220.1,220.1,220.1) 572px,rgb(217.1,217.1,217.1) 612px,rgb(214.3,214.3,214.3) 644px,rgb(211.8,211.8,211.8) 670px,rgb(209.6,209.6,209.6) 690px,rgb(207.7,207.7,207.7) 706px,rgb(206.0,206.0,206.0) 720px,rgb(204.7,204.7,204.7) 730px,rgb(203.4,203.4,203.4) 740px)"></i>
<i style="top:320px;background:linear-gradient(90deg,rgb(204.3,204.3,204.3) 0px,rgb(205.0,205.0,205.0) 6px,rgb(206.0,206.0,206.0) 14px,rgb(207.5,207.5,207.5) 26px,rgb(209.4,209.4,209.4) 42px,rgb(211.5,211.5,211.5) 62px,rgb(214.1,214.1,214.1) 88px,rgb(216.9,216.9,216.9) 120px,rgb(219.8,219.8,219.8) 160px,rgb(222.6,222.6,222.6) 210px,rgb(224.7,224.7,224.7) 270px,rgb(225.7,225.7,225.7) 330px,rgb(225.9,225.9,225.9) 366px,rgb(225.7,225.7,225.7) 402px,rgb(224.7,224.7,224.7) 462px,rgb(222.6,222.6,222.6) 522px,rgb(219.8,219.8,219.8) 572px,rgb(216.9,216.9,216.9) 612px,rgb(214.1,214.1,214.1) 644px,rgb(211.5,211.5,211.5) 670px,rgb(209.4,209.4,209.4) 690px,rgb(207.5,207.5,207.5) 706px,rgb(205.8,205.8,205.8) 720px,rgb(204.5,204.5,204.5) 730px,rgb(203.2,203.2,203.2) 740px)"></i>
<i style="top:324px;background:linear-gradient(90deg,rgb(204.0,204.0,204.0) 0px,rgb(204.8,204.8,204.8) 6px,rgb(205.8,205.8,205.8) 14px,rgb(207.2,207.2,207.2) 26px,rgb(209.1,209.1,209.1) 42px,rgb(211.2,211.2,211.2) 62px,rgb(213.8,213.8,213.8) 88px,rgb(216.5,216.5,216.5) 120px,rgb(219.4,219.4,219.4) 160px,rgb(222.2,222.2,222.2) 210px,rgb(224.4,224.4,224.4) 270px,rgb(225.4,225.4,225.4) 330px,rgb(225.5,225.5,225.5) 366px,rgb(225.4,225.4,225.4) 402px,rgb(224.4,224.4,224.4) 462px,rgb(222.2,222.2,222.2) 522px,rgb(219.4,219.4,219.4) 572px,rgb(216.5,216.5,216.5) 612px,rgb(213.8,213.8,213.8) 644px,rgb(211.2,211.2,211.2) 670px,rgb(209.1,209.1,209.1) 690px,rgb(207.2,207.2,207.2) 706px,rgb(205.5,205.5,205.5) 720px,rgb(204.3,204.3,204.3) 730px,rgb(203.0,203.0,203.0) 740px)"></i>
<i style="top:328px;background:linear-gradient(90deg,rgb(203.7,203.7,203.7) 0px,rgb(204.5,204.5,204.5) 6px,rgb(205.5,205.5,205.5) 14px,rgb(206.9,206.9,206.9) 26px,rgb(208.8,208.8,208.8) 42px,rgb(210.9,210.9,210.9) 62px,rgb(213.5,213.5,213.5) 88px,rgb(216.2,216.2,216.2) 120px,rgb(219.1,219.1,219.1) 160px,rgb(221.9,221.9,221.9) 210px,rgb(224.0,224.0,224.0) 270px,rgb(225.0,225.0,225.0) 330px,rgb(225.1,225.1,225.1) 366px,rgb(225.0,225.0,225.0) 402px,rgb(224.0,224.0,224.0) 462px,rgb(221.9,221.9,221.9) 522px,rgb(219.1,219.1,219.1) 572px,rgb(216.2,216.2,216.2) 612px,rgb(213.5,213.5,213.5) 644px,rgb(210.9,210.9,210.9) 670px,rgb(208.8,208.8,208.8) 690px,rgb(206.9,206.9,206.9) 706px,rgb(205.3,205.3,205.3) 720px,rgb(204.0,204.0,204.0) 730px,rgb(202.7,202.7,202.7) 740px)"></i>
<i style="top:332px;background:linear-gradient(90deg,rgb(203.5,203.5,203.5) 0px,rgb(204.2,204.2,204.2) 6px,rgb(205.2,205.2,205.2) 14px,rgb(206.7,206.7,206.7) 26px,rgb(208.5,208.5,208.5) 42px,rgb(210.6,210.6,210.6) 62px,rgb(213.1,213.1,213.1) 88px,rgb(215.9,215.9,215.9) 120px,rgb(218.8,218.8,218.8) 160px,rgb(221.5,221.5,221.5) 210px,rgb(223.7,223.7,223.7) 270px,rgb(224.6,224.6,224.6) 330px,rgb(224.8,224.8,224.8) 366px,rgb(224.6,224.6,224.6) 402px,rgb(223.7,223.7,223.7) 462px,rgb(221.5,221.5,221.5) 522px,rgb(218.8,218.8,218.8) 572px,rgb(215.9,215.9,215.9) 612px,rgb(213.1,213.1,213.1) 644px,rgb(210.6,210.6,210.6) 670px,rgb(208.5,208.5,208.5) 690px,rgb(206.7,206.7,206.7) 706px,rgb(205.0,205.0,205.0) 720px,rgb(203.7,203.7,203.7) 730px,rgb(202.4,202.4,202.4) 740px)"></i>
<i style="top:336px;background:linear-gradient(90deg,rgb(203.2,203.2,203.2) 0px,rgb(204.0,204.0,204.0) 6px,rgb(205.0,205.0,205.0) 14px,rgb(206.4,206.4,206.4) 26px,rgb(208.2,208.2,208.2) 42px,rgb(210.3,210.3,210.3) 62px,rgb(212.8,212.8,212.8) 88px,rgb(215.6,215.6,215.6) 120px,rgb(218.4,218.4,218.4) 160px,rgb(221.2,221.2,221.2) 210px,rgb(223.3,223.3,223.3) 270px,rgb(224.3,224.3,224.3) 330px,rgb(224.4,224.4,224.4) 366px,rgb(224.3,224.3,224.3) 402px,rgb(223.3,223.3,223.3) 462px,rgb(221.2,221.2,221.2) 522px,rgb(218.4,218.4,218.4) 572px,rgb(215.6,215.6,215.6) 612px,rgb(212.8,212.8,212.8) 644px,rgb(210.3,210.3,210.3) 670px,rgb(208.2,208.2,208.2) 690px,rgb(206.4,206.4,206.4) 706px,rgb(204.7,204.7,204.7) 720px,rgb(203.5,203.5,203.5) 730px,rgb(202.2,202.2,202.2) 740px)"></i>
<i style="top:340px;background:linear-gradient(90deg,rgb(203.0,203.0,203.0) 0px,rgb(203.7,203.7,203.7) 6px,rgb(204.7,204.7,204.7) 14px,rgb(206.1,206.1,206.1) 26px,rgb(207.9,207.9,207.9) 42px,rgb(210.0,210.0,210.0) 62px,rgb(212.5,212.5,212.5) 88px,rgb(215.2,215.2,215.2) 120px,rgb(218.1,218.1,218.1) 160px,rgb(220.8,220.8,220.8) 210px,rgb(222.9,222.9,222.9) 270px,rgb(223.9,223.9,223.9) 330px,rgb(224.0,224.0,224.0) 366px,rgb(223.9,223.9,223.9) 402px,rgb(222.9,222.9,222.9) 462px,rgb(220.8,220.8,220.8) 522px,rgb(218.1,218.1,218.1) 572px,rgb(215.2,215.2,215.2) 612px,rgb(212.5,212.5,212.5) 644px,rgb(210.0,210.0,210.0) 670px,rgb(207.9,207.9,207.9) 690px,rgb(206.1,206.1,206.1) 706px,rgb(204.4,204.4,204.4) 720px,rgb(203.2,203.2,203.2) 730px,rgb(201.9,201.9,201.9) 740px)"></i>
<i style="top:344px;background:linear-gradient(90deg,rgb(202.7,202.7,202.7) 0px,rgb(203.4,203.4,203.4) 6px,rgb(204.4,204.4,204.4) 14px,rgb(205.8,205.8,205.8) 26px,rgb(207.6,207.6,207.6) 42px,rgb(209.7,209.7,209.7) 62px,rgb(212.2,212.2,212.2) 88px,rgb(214.9,214.9,214.9) 120px,rgb(217.8,217.8,217.8) 160px,rgb(220.5,220.5,220.5) 210px,rgb(222.6,222.6,222.6) 270px,rgb(223.6,223.6,223.6) 330px,rgb(223.7,223.7,223.7) 366px,rgb(223.6,223.6,223.6) 402px,rgb(222.6,222.6,222.6) 462px,rgb(220.5,220.5,220.5) 522px,rgb(217.8,217.8,217.8) 572px,rgb(214.9,214.9,214.9) 612px,rgb(212.2,212.2,212.2) 644px,rgb(209.7,209.7,209.7) 670px,rgb(207.6,207.6,207.6) 690px,rgb(205.8,205.8,205.8) 706px,rgb(204.2,204.2,204.2) 720px,rgb(202.9,202.9,202.9) 730px,rgb(201.7,201.7,201.7) 740px)"></i>
<i style="top:348px;background:linear-gradient(90deg,rgb(202.4,202.4,202.4) 0px,rgb(203.2,203.2,203.2) 6px,rgb(204.1,204.1,204.1) 14px,rgb(205.6,205.6,205.6) 26px,rgb(207.3,207.3,207.3) 42px,rgb(209.4,209.4,209.4) 62px,rgb(211.9,211.9,211.9) 88px,rgb(214.6,214.6,214.6) 120px,rgb(217.4,217.4,217.4) 160px,rgb(220.1,220.1,220.1) 210px,rgb(222.2,222.2,222.2) 270px,rgb(223.2,223.2,223.2) 330px,rgb(223.3,223.3,223.3) 366px,rgb(223.2,223.2,223.2) 402px,rgb(222.2,222.2,222.2) 462px,rgb(220.1,220.1,220.1) 522px,rgb(217.4,217.4,217.4) 572px,rgb(214.6,214.6,214.6) 612px,rgb(211.9,211.9,211.9) 644px,rgb(209.4,209.4,209.4) 670px,rgb(207.3,207.3,207.3) 690px,rgb(205.6,205.6,205.6) 706px,rgb(203.9,203.9,203.9) 720px,rgb(202.7,202.7,202.7) 730px,rgb(201.4,201.4,201.4) 740px)"></i>
<i style="top:352px;background:linear-gradient(90deg,rgb(202.2,202.2,202.2) 0px,rgb(202.9,202.9,202.9) 6px,rgb(203.9,203.9,203.9) 14px,rgb(205.3,205.3,205.3) 26px,rgb(207.1,207.1,207.1) 42px,rgb(209.1,209.1,209.1) 62px,rgb(211.6,211.6,211.6) 88px,rgb(214.3,214.3,214.3) 120px,rgb(217.1,217.1,217.1) 160px,rgb(219.8,219.8,219.8) 210px,rgb(221.9,221.9,221.9) 270px,rgb(222.8,222.8,222.8) 330px,rgb(223.0,223.0,223.0) 366px,rgb(222.8,222.8,222.8) 402px,rgb(221.9,221.9,221.9) 462px,rgb(219.8,219.8,219.8) 522px,rgb(217.1,217.1,217.1) 572px,rgb(214.3,214.3,214.3) 612px,rgb(211.6,211.6,211.6) 644px,rgb(209.1,209.1,209.1) 670px,rgb(207.1,207.1,207.1) 690px,rgb(205.3,205.3,205.3) 706px,rgb(203.6,203.6,203.6) 720px,rgb(202.4,202.4,202.4) 730px,rgb(201.2,201.2,201.2) 740px)"></i>
<i style="top:356px;background:linear-gradient(90deg,rgb(201.9,201.9,201.9) 0px,rgb(202.6,202.6,202.6) 6px,rgb(203.6,203.6,203.6) 14px,rgb(205.0,205.0,205.0) 26px,rgb(206.8,206.8,206.8) 42px,rgb(208.8,208.8,208.8) 62px,rgb(211.3,211.3,211.3) 88px,rgb(214.0,214.0,214.0) 120px,rgb(216.7,216.7,216.7) 160px,rgb(219.4,219.4,219.4) 210px,rgb(221.5,221.5,221.5) 270px,rgb(222.5,222.5,222.5) 330px,rgb(222.6,222.6,222.6) 366px,rgb(222.5,222.5,222.5) 402px,rgb(221.5,221.5,221.5) 462px,rgb(219.4,219.4,219.4) 522px,rgb(216.7,216.7,216.7) 572px,rgb(214.0,214.0,214.0) 612px,rgb(211.3,211.3,211.3) 644px,rgb(208.8,208.8,208.8) 670px,rgb(206.8,206.8,206.8) 690px,rgb(205.0,205.0,205.0) 706px,rgb(203.4,203.4,203.4) 720px,rgb(202.2,202.2,202.2) 730px,rgb(200.9,200.9,200.9) 740px)"></i>
<i style="top:360px;background:linear-gradient(90deg,rgb(201.6,201.6,201.6) 0px,rgb(202.4,202.4,202.4) 6px,rgb(203.3,203.3,203.3) 14px,rgb(204.7,204.7,204.7) 26px,rgb(206.5,206.5,206.5) 42px,rgb(208.5,208.5,208.5) 62px,rgb(211.0,211.0,211.0) 88px,rgb(213.6,213.6,213.6) 120px,rgb(216.4,216.4,216.4) 160px,rgb(219.1,219.1,219.1) 210px,rgb(221.1,221.1,221.1) 270px,rgb(222.1,222.1,222.1) 330px,rgb(222.2,222.2,222.2) 366px,rgb(222.1,222.1,222.1) 402px,rgb(221.1,221.1,221.1) 462px,rgb(219.1,219.1,219.1) 522px,rgb(216.4,216.4,216.4) 572px,rgb(213.6,213.6,213.6) 612px,rgb(211.0,211.0,211.0) 644px,rgb(208.5,208.5,208.5) 670px,rgb(206.5,206.5,206.5) 690px,rgb(204.7,204.7,204.7) 706px,rgb(203.1,203.1,203.1) 720px,rgb(201.9,201.9,201.9) 730px,rgb(200.6,200.6,200.6) 740px)"></i>
<i style="top:364px;background:linear-gradient(90deg,rgb(201.4,201.4,201.4) 0px,rgb(202.1,202.1,202.1) 6px,rgb(203.0,203.0,203.0) 14px,rgb(204.4,204.4,204.4) 26px,rgb(206.2,206.2,206.2) 42px,rgb(208.2,208.2,208.2) 62px,rgb(210.7,210.7,210.7) 88px,rgb(213.3,213.3,213.3) 120px,rgb(216.1,216.1,216.1) 160px,rgb(218.7,218.7,218.7) 210px,rgb(220.8,220.8,220.8) 270px,rgb(221.7,221.7,221.7) 330px,rgb(221.9,221.9,221.9) 366px,rgb(221.7,221.7,221.7) 402px,rgb(220.8,220.8,220.8) 462px,rgb(218.7,218.7,218.7) 522px,rgb(216.1,216.1,216.1) 572px,rgb(213.3,213.3,213.3) 612px,rgb(210.7,210.7,210.7) 644px,rgb(208.2,208.2,208.2) 670px,rgb(206.2,206.2,206.2) 690px,rgb(204.4,204.4,204.4) 706px,rgb(202.8,202.8,202.8) 720px,rgb(201.6,201.6,201.6) 730px,rgb(200.4,200.4,200.4) 740px)"></i>
<i style="top:368px;background:linear-gradient(90deg,rgb(201.1,201.1,201.1) 0px,rgb(201.8,201.8,201.8) 6px,rgb(202.8,202.8,202.8) 14px,rgb(204.1,204.1,204.1) 26px,rgb(205.9,205.9,205.9) 42px,rgb(207.9,207.9,207.9) 62px,rgb(210.4,210.4,210.4) 88px,rgb(213.0,213.0,213.0) 120px,rgb(215.7,215.7,215.7) 160px,rgb(218.4,218.4,218.4) 210px,rgb(220.4,220.4,220.4) 270px,rgb(221.4,221.4,221.4) 330px,rgb(221.5,221.5,221.5) 366px,rgb(221.4,221.4,221.4) 402px,rgb(220.4,220.4,220.4) 462px,rgb(218.4,218.4,218.4) 522px,rgb(215.7,215.7,215.7) 572px,rgb(213.0,213.0,213.0) 612px,rgb(210.4,210.4,210.4) 644px,rgb(207.9,207.9,207.9) 670px,rgb(205.9,205.9,205.9) 690px,rgb(204.1,204.1,204.1) 706px,rgb(202.5,202.5,202.5) 720px,rgb(201.3,201.3,201.3) 730px,rgb(200.1,200.1,200.1) 740px)"></i>
<i style="top:372px;background:linear-gradient(90deg,rgb(200.8,200.8,200.8) 0px,rgb(201.5,201.5,201.5) 6px,rgb(202.5,202.5,202.5) 14px,rgb(203.8,203.8,203.8) 26px,rgb(205.6,205.6,205.6) 42px,rgb(207.6,207.6,207.6) 62px,rgb(210.0,210.0,210.0) 88px,rgb(212.7,212.7,212.7) 120px,rgb(215.4,215.4,215.4) 160px,rgb(218.0,218.0,218.0) 210px,rgb(220.1,220.1,220.1) 270px,rgb(221.0,221.0,221.0) 330px,rgb(221.1,221.1,221.1) 366px,rgb(221.0,221.0,221.0) 402px,rgb(220.1,220.1,220.1) 462px,rgb(218.0,218.0,218.0) 522px,rgb(215.4,215.4,215.4) 572px,rgb(212.7,212.7,212.7) 612px,rgb(210.0,210.0,210.0) 644px,rgb(207.6,207.6,207.6) 670px,rgb(205.6,205.6,205.6) 690px,rgb(203.8,203.8,203.8) 706px,rgb(202.2,202.2,202.2) 720px,rgb(201.0,201.0,201.0) 730px,rgb(199.8,199.8,199.8) 740px)"></i>
<i style="top:376px;background:linear-gradient(90deg,rgb(200.5,200.5,200.5) 0px,rgb(201.2,201.2,201.2) 6px,rgb(202.2,202.2,202.2) 14px,rgb(203.6,203.6,203.6) 26px,rgb(205.3,205.3,205.3) 42px,rgb(207.3,207.3,207.3) 62px,rgb(209.7,209.7,209.7) 88px,rgb(212.3,212.3,212.3) 120px,rgb(215.1,215.1,215.1) 160px,rgb(217.7,217.7,217.7) 210px,rgb(219.7,219.7,219.7) 270px,rgb(220.6,220.6,220.6) 330px,rgb(220.8,220.8,220.8) 366px,rgb(220.6,220.6,220.6) 402px,rgb(219.7,219.7,219.7) 462px,rgb(217.7,217.7,217.7) 522px,rgb(215.1,215.1,215.1) 572px,rgb(212.3,212.3,212.3) 612px,rgb(209.7,209.7,209.7) 644px,rgb(207.3,207.3,207.3) 670px,rgb(205.3,205.3,205.3) 690px,rgb(203.6,203.6,203.6) 706px,rgb(202.0,202.0,202.0) 720px,rgb(200.8,200.8,200.8) 730px,rgb(199.5,199.5,199.5) 740px)"></i>
<i style="top:380px;background:linear-gradient(90deg,rgb(200.2,200.2,200.2) 0px,rgb(201.0,201.0,201.0) 6px,rgb(201.9,201.9,201.9) 14px,rgb(203.3,203.3,203.3) 26px,rgb(205.0,205.0,205.0) 42px,rgb(207.0,207.0,207.0) 62px,rgb(209.4,209.4,209.4) 88px,rgb(212.0,212.0,212.0) 120px,rgb(214.7,214.7,214.7) 160px,rgb(217.3,217.3,217.3) 210px,rgb(219.3,219.3,219.3) 270px,rgb(220.3,220.3,220.3) 330px,rgb(220.4,220.4,220.4) 366px,rgb(220.3,220.3,220.3) 402px,rgb(219.3,219.3,219.3) 462px,rgb(217.3,217.3,217.3) 522px,rgb(214.7,214.7,214.7) 572px,rgb(212.0,212.0,212.0) 612px,rgb(209.4,209.4,209.4) 644px,rgb(207.0,207.0,207.0) 670px,rgb(205.0,205.0,205.0) 690px,rgb(203.3,203.3,203.3) 706px,rgb(201.7,201.7,201.7) 720px,rgb(200.5,200.5,200.5) 730px,rgb(199.3,199.3,199.3) 740px)"></i>
<i style="top:384px;background:linear-gradient(90deg,rgb(200.0,200.0,200.0) 0px,rgb(200.7,200.7,200.7) 6px,rgb(201.6,201.6,201.6) 14px,rgb(203.0,203.0,203.0) 26px,rgb(204.7,204.7,204.7) 42px,rgb(206.7,206.7,206.7) 62px,rgb(209.1,209.1,209.1) 88px,rgb(211.7,211.7,211.7) 120px,rgb(214.4,214.4,214.4) 160px,rgb(217.0,217.0,217.0) 210px,rgb(219.0,219.0,219.0) 270px,rgb(219.9,219.9,219.9) 330px,rgb(220.0,220.0,220.0) 366px,rgb(219.9,219.9,219.9) 402px,rgb(219.0,219.0,219.0) 462px,rgb(217.0,217.0,217.0) 522px,rgb(214.4,214.4,214.4) 572px,rgb(211.7,211.7,211.7) 612px,rgb(209.1,209.1,209.1) 644px,rgb(206.7,206.7,206.7) 670px,rgb(204.7,204.7,204.7) 690px,rgb(203.0,203.0,203.0) 706px,rgb(201.4,201.4,201.4) 720px,rgb(200.2,200.2,200.2) 730px,rgb(199.0,199.0,199.0) 740px)"></i>
<i style="top:388px;background:linear-gradient(90deg,rgb(199.7,199.7,199.7) 0px,rgb(200.4,200.4,200.4) 6px,rgb(201.3,201.3,201.3) 14px,rgb(202.7,202.7,202.7) 26px,rgb(204.4,204.4,204.4) 42px,rgb(206.4,206.4,206.4) 62px,rgb(208.8,208.8,208.8) 88px,rgb(211.3,211.3,211.3) 120px,rgb(214.0,214.0,214.0) 160px,rgb(216.6,216.6,216.6) 210px,rgb(218.6,218.6,218.6) 270px,rgb(219.6,219.6,219.6) 330px,rgb(219.7,219.7,219.7) 366px,rgb(219.6,219.6,219.6) 402px,rgb(218.6,218.6,218.6) 462px,rgb(216.6,216.6,216.6) 522px,rgb(214.0,214.0,214.0) 572px,rgb(211.3,211.3,211.3) 612px,rgb(208.8,208.8,208.8) 644px,rgb(206.4,206.4,206.4) 670px,rgb(204.4,204.4,204.4) 690px,rgb(202.7,202.7,202.7) 706px,rgb(201.1,201.1,201.1) 720px,rgb(199.9,199.9,199.9) 730px,rgb(198.7,198.7,198.7) 740px)"></i>
<i style="top:392px;background:linear-gradient(90deg,rgb(199.4,199.4,199.4) 0px,rgb(200.1,200.1,200.1) 6px,rgb(201.1,201.1,201.1) 14px,rgb(202.4,202.4,202.4) 26px,rgb(204.1,204.1,204.1) 42px,rgb(206.1,206.1,206.1) 62px,rgb(208.5,208.5,208.5) 88px,rgb(211.0,211.0,211.0) 120px,rgb(213.7,213.7,213.7) 160px,rgb(216.3,216.3,216.3) 210px,rgb(218.3,218.3,218.3) 270px,rgb(219.2,219.2,219.2) 330px,rgb(219.3,219.3,219.3) 366px,rgb(219.2,219.2,219.2) 402px,rgb(218.3,218.3,218.3) 462px,rgb(216.3,216.3,216.3) 522px,rgb(213.7,213.7,213.7) 572px,rgb(211.0,211.0,211.0) 612px,rgb(208.5,208.5,208.5) 644px,rgb(206.1,206.1,206.1) 670px,rgb(204.1,204.1,204.1) 690px,rgb(202.4,202.4,202.4) 706px,rgb(200.8,200.8,200.8) 720px,rgb(199.7,199.7,199.7) 730px,rgb(198.4,198.4,198.4) 740px)"></i>
<i style="top:396px;background:linear-gradient(90deg,rgb(199.1,199.1,199.1) 0px,rgb(199.8,199.8,199.8) 6px,rgb(200.8,200.8,200.8) 14px,rgb(202.1,202.1,202.1) 26px,rgb(203.8,203.8,203.8) 42px,rgb(205.8,205.8,205.8) 62px,rgb(208.1,208.1,208.1) 88px,rgb(210.7,210.7,210.7) 120px,rgb(213.4,213.4,213.4) 160px,rgb(215.9,215.9,215.9) 210px,rgb(217.9,217.9,217.9) 270px,rgb(218.8,218.8,218.8) 330px,rgb(219.0,219.0,219.0) 366px,rgb(218.8,218.8,218.8) 402px,rgb(217.9,217.9,217.9) 462px,rgb(215.9,215.9,215.9) 522px,rgb(213.4,213.4,213.4) 572px,rgb(210.7,210.7,210.7) 612px,rgb(208.1,208.1,208.1) 644px,rgb(205.8,205.8,205.8) 670px,rgb(203.8,203.8,203.8) 690px,rgb(202.1,202.1,202.1) 706px,rgb(200.5,200.5,200.5) 720px,rgb(199.4,199.4,199.4) 730px,rgb(198.2,198.2,198.2) 740px)"></i>
<i style="top:400px;background:linear-gradient(90deg,rgb(198.9,198.9,198.9) 0px,rgb(199.6,199.6,199.6) 6px,rgb(200.5,200.5,200.5) 14px,rgb(201.8,201.8,201.8) 26px,rgb(203.5,203.5,203.5) 42px,rgb(205.5,205.5,205.5) 62px,rgb(207.8,207.8,207.8) 88px,rgb(210.4,210.4,210.4) 120px,rgb(213.0,213.0,213.0) 160px,rgb(215.6,215.6,215.6) 210px,rgb(217.6,217.6,217.6) 270px,rgb(218.5,218.5,218.5) 330px,rgb(218.6,218.6,218.6) 366px,rgb(218.5,218.5,218.5) 402px,rgb(217.6,217.6,217.6) 462px,rgb(215.6,215.6,215.6) 522px,rgb(213.0,213.0,213.0) 572px,rgb(210.4,210.4,210.4) 612px,rgb(207.8,207.8,207.8) 644px,rgb(205.5,205.5,205.5) 670px,rgb(203.5,203.5,203.5) 690px,rgb(201.8,201.8,201.8) 706px,rgb(200.3,200.3,200.3) 720px,rgb(199.1,199.1,199.1) 730px,rgb(197.9,197.9,197.9) 740px)"></i>
<i style="top:404px;background:linear-gradient(90deg,rgb(198.6,198.6,198.6) 0px,rgb(199.3,199.3,199.3) 6px,rgb(200.2,200.2,200.2) 14px,rgb(201.5,201.5,201.5) 26px,rgb(203.2,203.2,203.2) 42px,rgb(205.2,205.2,205.2) 62px,rgb(207.5,207.5,207.5) 88px,rgb(210.0,210.0,210.0) 120px,rgb(212.7,212.7,212.7) 160px,rgb(215.2,215.2,215.2) 210px,rgb(217.2,217.2,217.2) 270px,rgb(218.1,218.1,218.1) 330px,rgb(218.2,218.2,218.2) 366px,rgb(218.1,218.1,218.1) 402px,rgb(217.2,217.2,217.2) 462px,rgb(215.2,215.2,215.2) 522px,rgb(212.7,212.7,212.7) 572px,rgb(210.0,210.0,210.0) 612px,rgb(207.5,207.5,207.5) 644px,rgb(205.2,205.2,205.2) 670px,rgb(203.2,203.2,203.2) 690px,rgb(201.5,201.5,201.5) 706px,rgb(200.0,200.0,200.0) 720px,rgb(198.8,198.8,198.8) 730px,rgb(197.6,197.6,197.6) 740px)"></i>
<i style="top:408px;background:linear-gradient(90deg,rgb(198.3,198.3,198.3) 0px,rgb(199.0,199.0,199.0) 6px,rgb(199.9,199.9,199.9) 14px,rgb(201.2,201.2,201.2) 26px,rgb(202.9,202.9,202.9) 42px,rgb(204.9,204.9,204.9) 62px,rgb(207.2,207.2,207.2) 88px,rgb(209.7,209.7,209.7) 120px,rgb(212.3,212.3,212.3) 160px,rgb(214.9,214.9,214.9) 210px,rgb(216.8,216.8,216.8) 270px,rgb(217.7,217.7,217.7) 330px,rgb(217.9,217.9,217.9) 366px,rgb(217.7,217.7,217.7) 402px,rgb(216.8,216.8,216.8) 462px,rgb(214.9,214.9,214.9) 522px,rgb(212.3,212.3,212.3) 572px,rgb(209.7,209.7,209.7) 612px,rgb(207.2,207.2,207.2) 644px,rgb(204.9,204.9,204.9) 670px,rgb(202.9,202.9,202.9) 690px,rgb(201.2,201.2,201.2) 706px,rgb(199.7,199.7,199.7) 720px,rgb(198.5,198.5,198.5) 730px,rgb(197.4,197.4,197.4) 740px)"></i>
<i style="top:412px;background:linear-gradient(90deg,rgb(198.0,198.0,198.0) 0px,rgb(198.7,198.7,198.7) 6px,rgb(199.6,199.6,199.6) 14px,rgb(200.9,200.9,200.9) 26px,rgb(202.6,202.6,202.6) 42px,rgb(204.6,204.6,204.6) 62px,rgb(206.9,206.9,206.9) 88px,rgb(209.4,209.4,209.4) 120px,rgb(212.0,212.0,212.0) 160px,rgb(214.5,214.5,214.5) 210px,rgb(216.5,216.5,216.5) 270px,rgb(217.4,217.4,217.4) 330px,rgb(217.5,217.5,217.5) 366px,rgb(217.4,217.4,217.4) 402px,rgb(216.5,216.5,216.5) 462px,rgb(214.5,214.5,214.5) 522px,rgb(212.0,212.0,212.0) 572px,rgb(209.4,209.4,209.4) 612px,rgb(206.9,206.9,206.9) 644px,rgb(204.6,204.6,204.6) 670px,rgb(202.6,202.6,202.6) 690px,rgb(200.9,200.9,200.9) 706px,rgb(199.4,199.4,199.4) 720px,rgb(198.3,198.3,198.3) 730px,rgb(197.1,197.1,197.1) 740px)"></i>
<i style="top:416px;background:linear-gradient(90deg,rgb(197.8,197.8,197.8) 0px,rgb(198.4,198.4,198.4) 6px,rgb(199.3,199.3,199.3) 14px,rgb(200.7,200.7,200.7) 26px,rgb(202.3,202.3,202.3) 42px,rgb(204.3,204.3,204.3) 62px,rgb(206.6,206.6,206.6) 88px,rgb(209.0,209.0,209.0) 120px,rgb(211.7,211.7,211.7) 160px,rgb(214.2,214.2,214.2) 210px,rgb(216.1,216.1,216.1) 270px,rgb(217.0,217.0,217.0) 330px,rgb(217.1,217.1,217.1) 366px,rgb(217.0,217.0,217.0) 402px,rgb(216.1,216.1,216.1) 462px,rgb(214.2,214.2,214.2) 522px,rgb(211.7,211.7,211.7) 572px,rgb(209.0,209.0,209.0) 612px,rgb(206.6,206.6,206.6) 644px,rgb(204.3,204.3,204.3) 670px,rgb(202.3,202.3,202.3) 690px,rgb(200.7,200.7,200.7) 706px,rgb(199.1,199.1,199.1) 720px,rgb(198.0,198.0,198.0) 730px,rgb(196.8,196.8,196.8) 740px)"></i>
<i style="top:420px;background:linear-gradient(90deg,rgb(197.5,197.5,197.5) 0px,rgb(198.2,198.2,198.2) 6px,rgb(199.1,199.1,199.1) 14px,rgb(200.4,200.4,200.4) 26px,rgb(202.0,202.0,202.0) 42px,rgb(203.9,203.9,203.9) 62px,rgb(206.2,206.2,206.2) 88px,rgb(208.7,208.7,208.7) 120px,rgb(211.3,211.3,211.3) 160px,rgb(213.8,213.8,213.8) 210px,rgb(215.8,215.8,215.8) 270px,rgb(216.7,216.7,216.7) 330px,rgb(216.8,216.8,216.8) 366px,rgb(216.7,216.7,216.7) 402px,rgb(215.8,215.8,215.8) 462px,rgb(213.8,213.8,213.8) 522px,rgb(211.3,211.3,211.3) 572px,rgb(208.7,208.7,208.7) 612px,rgb(206.2,206.2,206.2) 644px,rgb(203.9,203.9,203.9) 670px,rgb(202.0,202.0,202.0) 690px,rgb(200.4,200.4,200.4) 706px,rgb(198.8,198.8,198.8) 720px,rgb(197.7,197.7,197.7) 730px,rgb(196.5,196.5,196.5) 740px)"></i>
<i style="top:424px;background:linear-gradient(90deg,rgb(197.2,197.2,197.2) 0px,rgb(197.9,197.9,197.9) 6px,rgb(198.8,198.8,198.8) 14px,rgb(200.1,200.1,200.1) 26px,rgb(201.7,201.7,201.7) 42px,rgb(203.6,203.6,203.6) 62px,rgb(205.9,205.9,205.9) 88px,rgb(208.4,208.4,208.4) 120px,rgb(211.0,211.0,211.0) 160px,rgb(213.5,213.5,213.5) 210px,rgb(215.4,215.4,215.4) 270px,rgb(216.3,216.3,216.3) 330px,rgb(216.4,216.4,216.4) 366px,rgb(216.3,216.3,216.3) 402px,rgb(215.4,215.4,215.4) 462px,rgb(213.5,213.5,213.5) 522px,rgb(211.0,211.0,211.0) 572px,rgb(208.4,208.4,208.4) 612px,rgb(205.9,205.9,205.9) 644px,rgb(203.6,203.6,203.6) 670px,rgb(201.7,201.7,201.7) 690px,rgb(200.1,200.1,200.1) 706px,rgb(198.6,198.6,198.6) 720px,rgb(197.4,197.4,197.4) 730px,rgb(196.3,196.3,196.3) 740px)"></i>
<i style="top:428px;background:linear-gradient(90deg,rgb(196.9,196.9,196.9) 0px,rgb(197.6,197.6,197.6) 6px,rgb(198.5,198.5,198.5) 14px,rgb(199.8,199.8,199.8) 26px,rgb(201.4,201.4,201.4) 42px,rgb(203.3,203.3,203.3) 62px,rgb(205.6,205.6,205.6) 88px,rgb(208.1,208.1,208.1) 120px,rgb(210.6,210.6,210.6) 160px,rgb(213.1,213.1,213.1) 210px,rgb(215.0,215.0,215.0) 270px,rgb(215.9,215.9,215.9) 330px,rgb(216.0,216.0,216.0) 366px,rgb(215.9,215.9,215.9) 402px,rgb(215.0,215.0,215.0) 462px,rgb(213.1,213.1,213.1) 522px,rgb(210.6,210.6,210.6) 572px,rgb(208.1,208.1,208.1) 612px,rgb(205.6,205.6,205.6) 644px,rgb(203.3,203.3,203.3) 670px,rgb(201.4,201.4,201.4) 690px,rgb(199.8,199.8,199.8) 706px,rgb(198.3,198.3,198.3) 720px,rgb(197.1,197.1,197.1) 730px,rgb(196.0,196.0,196.0) 740px)"></i>
<i style="top:432px;background:linear-gradient(90deg,rgb(196.5,196.5,196.5) 0px,rgb(197.2,197.2,197.2) 6px,rgb(198.1,198.1,198.1) 14px,rgb(199.4,199.4,199.4) 26px,rgb(201.0,201.0,201.0) 42px,rgb(202.9,202.9,202.9) 62px,rgb(205.2,205.2,205.2) 88px,rgb(207.7,207.7,207.7) 120px,rgb(210.3,210.3,210.3) 160px,rgb(212.7,212.7,212.7) 210px,rgb(214.6,214.6,214.6) 270px,rgb(215.5,215.5,215.5) 330px,rgb(215.7,215.7,215.7) 366px,rgb(215.5,215.5,215.5) 402px,rgb(214.6,214.6,214.6) 462px,rgb(212.7,212.7,212.7) 522px,rgb(210.3,210.3,210.3) 572px,rgb(207.7,207.7,207.7) 612px,rgb(205.2,205.2,205.2) 644px,rgb(202.9,202.9,202.9) 670px,rgb(201.0,201.0,201.0) 690px,rgb(199.4,199.4,199.4) 706px,rgb(197.9,197.9,197.9) 720px,rgb(196.8,196.8,196.8) 730px,rgb(195.6,195.6,195.6) 740px)"></i>
<i style="top:436px;background:linear-gradient(90deg,rgb(196.1,196.1,196.1) 0px,rgb(196.8,196.8,196.8) 6px,rgb(197.7,197.7,197.7) 14px,rgb(199.0,199.0,199.0) 26px,rgb(200.6,200.6,200.6) 42px,rgb(202.5,202.5,202.5) 62px,rgb(204.8,204.8,204.8) 88px,rgb(207.3,207.3,207.3) 120px,rgb(209.9,209.9,209.9) 160px,rgb(212.3,212.3,212.3) 210px,rgb(214.2,214.2,214.2) 270px,rgb(215.1,215.1,215.1) 330px,rgb(215.2,215.2,215.2) 366px,rgb(215.1,215.1,215.1) 402px,rgb(214.2,214.2,214.2) 462px,rgb(212.3,212.3,212.3) 522px,rgb(209.9,209.9,209.9) 572px,rgb(207.3,207.3,207.3) 612px,rgb(204.8,204.8,204.8) 644px,rgb(202.5,202.5,202.5) 670px,rgb(200.6,200.6,200.6) 690px,rgb(199.0,199.0,199.0) 706px,rgb(197.5,197.5,197.5) 720px,rgb(196.4,196.4,196.4) 730px,rgb(195.2,195.2,195.2) 740px)"></i>
<div id="edge"></div>
<svg width="740" height="440" viewBox="0 0 740 440">
<defs><linearGradient id="h76" x1="0" y1="0" x2="1" y2="0"><stop offset="0.0000" stop-color="#fff" stop-opacity="0.016"/><stop offset="0.0230" stop-color="#fff" stop-opacity="0.021"/><stop offset="0.0662" stop-color="#fff" stop-opacity="0.034"/><stop offset="0.1237" stop-color="#fff" stop-opacity="0.056"/><stop offset="0.1957" stop-color="#fff" stop-opacity="0.096"/><stop offset="0.2820" stop-color="#fff" stop-opacity="0.175"/><stop offset="0.3827" stop-color="#fff" stop-opacity="0.308"/><stop offset="0.4921" stop-color="#fff" stop-opacity="0.391"/><stop offset="0.5986" stop-color="#fff" stop-opacity="0.312"/><stop offset="0.6993" stop-color="#fff" stop-opacity="0.178"/><stop offset="0.7856" stop-color="#fff" stop-opacity="0.098"/><stop offset="0.8576" stop-color="#fff" stop-opacity="0.057"/><stop offset="0.9151" stop-color="#fff" stop-opacity="0.035"/><stop offset="0.9583" stop-color="#fff" stop-opacity="0.022"/><stop offset="0.9799" stop-color="#fff" stop-opacity="0.017"/><stop offset="1.0000" stop-color="#fff" stop-opacity="0.012"/></linearGradient>
<linearGradient id="h79" x1="0" y1="0" x2="1" y2="0"><stop offset="0.0000" stop-color="#fff" stop-opacity="0.016"/><stop offset="0.0230" stop-color="#fff" stop-opacity="0.021"/><stop offset="0.0662" stop-color="#fff" stop-opacity="0.034"/><stop offset="0.1237" stop-color="#fff" stop-opacity="0.055"/><stop offset="0.1957" stop-color="#fff" stop-opacity="0.095"/><stop offset="0.2820" stop-color="#fff" stop-opacity="0.171"/><stop offset="0.3827" stop-color="#fff" stop-opacity="0.298"/><stop offset="0.4921" stop-color="#fff" stop-opacity="0.375"/><stop offset="0.5986" stop-color="#fff" stop-opacity="0.301"/><stop offset="0.6993" stop-color="#fff" stop-opacity="0.175"/><stop offset="0.7856" stop-color="#fff" stop-opacity="0.097"/><stop offset="0.8576" stop-color="#fff" stop-opacity="0.057"/><stop offset="0.9151" stop-color="#fff" stop-opacity="0.035"/><stop offset="0.9583" stop-color="#fff" stop-opacity="0.022"/><stop offset="0.9799" stop-color="#fff" stop-opacity="0.017"/><stop offset="1.0000" stop-color="#fff" stop-opacity="0.013"/></linearGradient>
<linearGradient id="h128" x1="0" y1="0" x2="1" y2="0"><stop offset="0.0000" stop-color="#fff" stop-opacity="0.018"/><stop offset="0.0230" stop-color="#fff" stop-opacity="0.023"/><stop offset="0.0662" stop-color="#fff" stop-opacity="0.035"/><stop offset="0.1237" stop-color="#fff" stop-opacity="0.054"/><stop offset="0.1957" stop-color="#fff" stop-opacity="0.086"/><stop offset="0.2820" stop-color="#fff" stop-opacity="0.134"/><stop offset="0.3827" stop-color="#fff" stop-opacity="0.192"/><stop offset="0.4921" stop-color="#fff" stop-opacity="0.219"/><stop offset="0.5986" stop-color="#fff" stop-opacity="0.193"/><stop offset="0.6993" stop-color="#fff" stop-opacity="0.136"/><stop offset="0.7856" stop-color="#fff" stop-opacity="0.087"/><stop offset="0.8576" stop-color="#fff" stop-opacity="0.055"/><stop offset="0.9151" stop-color="#fff" stop-opacity="0.036"/><stop offset="0.9583" stop-color="#fff" stop-opacity="0.024"/><stop offset="0.9799" stop-color="#fff" stop-opacity="0.019"/><stop offset="1.0000" stop-color="#fff" stop-opacity="0.014"/></linearGradient>
<linearGradient id="h131" x1="0" y1="0" x2="1" y2="0"><stop offset="0.0000" stop-color="#fff" stop-opacity="0.018"/><stop offset="0.0230" stop-color="#fff" stop-opacity="0.023"/><stop offset="0.0662" stop-color="#fff" stop-opacity="0.035"/><stop offset="0.1237" stop-color="#fff" stop-opacity="0.054"/><stop offset="0.1957" stop-color="#fff" stop-opacity="0.084"/><stop offset="0.2820" stop-color="#fff" stop-opacity="0.131"/><stop offset="0.3827" stop-color="#fff" stop-opacity="0.186"/><stop offset="0.4921" stop-color="#fff" stop-opacity="0.210"/><stop offset="0.5986" stop-color="#fff" stop-opacity="0.187"/><stop offset="0.6993" stop-color="#fff" stop-opacity="0.132"/><stop offset="0.7856" stop-color="#fff" stop-opacity="0.086"/><stop offset="0.8576" stop-color="#fff" stop-opacity="0.055"/><stop offset="0.9151" stop-color="#fff" stop-opacity="0.035"/><stop offset="0.9583" stop-color="#fff" stop-opacity="0.024"/><stop offset="0.9799" stop-color="#fff" stop-opacity="0.019"/><stop offset="1.0000" stop-color="#fff" stop-opacity="0.014"/></linearGradient>
<linearGradient id="h180" x1="0" y1="0" x2="1" y2="0"><stop offset="0.0000" stop-color="#fff" stop-opacity="0.031"/><stop offset="0.0230" stop-color="#fff" stop-opacity="0.036"/><stop offset="0.0662" stop-color="#fff" stop-opacity="0.048"/><stop offset="0.1237" stop-color="#fff" stop-opacity="0.066"/><stop offset="0.1957" stop-color="#fff" stop-opacity="0.092"/><stop offset="0.2820" stop-color="#fff" stop-opacity="0.125"/><stop offset="0.3827" stop-color="#fff" stop-opacity="0.158"/><stop offset="0.4921" stop-color="#fff" stop-opacity="0.171"/><stop offset="0.5986" stop-color="#fff" stop-opacity="0.159"/><stop offset="0.6993" stop-color="#fff" stop-opacity="0.126"/><stop offset="0.7856" stop-color="#fff" stop-opacity="0.093"/><stop offset="0.8576" stop-color="#fff" stop-opacity="0.067"/><stop offset="0.9151" stop-color="#fff" stop-opacity="0.049"/><stop offset="0.9583" stop-color="#fff" stop-opacity="0.037"/><stop offset="0.9799" stop-color="#fff" stop-opacity="0.032"/><stop offset="1.0000" stop-color="#fff" stop-opacity="0.027"/></linearGradient>
<linearGradient id="h183" x1="0" y1="0" x2="1" y2="0"><stop offset="0.0000" stop-color="#fff" stop-opacity="0.031"/><stop offset="0.0230" stop-color="#fff" stop-opacity="0.036"/><stop offset="0.0662" stop-color="#fff" stop-opacity="0.048"/><stop offset="0.1237" stop-color="#fff" stop-opacity="0.065"/><stop offset="0.1957" stop-color="#fff" stop-opacity="0.090"/><stop offset="0.2820" stop-color="#fff" stop-opacity="0.123"/><stop offset="0.3827" stop-color="#fff" stop-opacity="0.154"/><stop offset="0.4921" stop-color="#fff" stop-opacity="0.166"/><stop offset="0.5986" stop-color="#fff" stop-opacity="0.155"/><stop offset="0.6993" stop-color="#fff" stop-opacity="0.124"/><stop offset="0.7856" stop-color="#fff" stop-opacity="0.091"/><stop offset="0.8576" stop-color="#fff" stop-opacity="0.066"/><stop offset="0.9151" stop-color="#fff" stop-opacity="0.048"/><stop offset="0.9583" stop-color="#fff" stop-opacity="0.037"/><stop offset="0.9799" stop-color="#fff" stop-opacity="0.032"/><stop offset="1.0000" stop-color="#fff" stop-opacity="0.027"/></linearGradient>
<linearGradient id="h232" x1="0" y1="0" x2="1" y2="0"><stop offset="0.0000" stop-color="#fff" stop-opacity="0.053"/><stop offset="0.0230" stop-color="#fff" stop-opacity="0.059"/><stop offset="0.0662" stop-color="#fff" stop-opacity="0.071"/><stop offset="0.1237" stop-color="#fff" stop-opacity="0.089"/><stop offset="0.1957" stop-color="#fff" stop-opacity="0.112"/><stop offset="0.2820" stop-color="#fff" stop-opacity="0.139"/><stop offset="0.3827" stop-color="#fff" stop-opacity="0.163"/><stop offset="0.4921" stop-color="#fff" stop-opacity="0.171"/><stop offset="0.5986" stop-color="#fff" stop-opacity="0.163"/><stop offset="0.6993" stop-color="#fff" stop-opacity="0.140"/><stop offset="0.7856" stop-color="#fff" stop-opacity="0.113"/><stop offset="0.8576" stop-color="#fff" stop-opacity="0.089"/><stop offset="0.9151" stop-color="#fff" stop-opacity="0.072"/><stop offset="0.9583" stop-color="#fff" stop-opacity="0.060"/><stop offset="0.9799" stop-color="#fff" stop-opacity="0.054"/><stop offset="1.0000" stop-color="#fff" stop-opacity="0.049"/></linearGradient>
<linearGradient id="h235" x1="0" y1="0" x2="1" y2="0"><stop offset="0.0000" stop-color="#fff" stop-opacity="0.053"/><stop offset="0.0230" stop-color="#fff" stop-opacity="0.059"/><stop offset="0.0662" stop-color="#fff" stop-opacity="0.070"/><stop offset="0.1237" stop-color="#fff" stop-opacity="0.087"/><stop offset="0.1957" stop-color="#fff" stop-opacity="0.110"/><stop offset="0.2820" stop-color="#fff" stop-opacity="0.136"/><stop offset="0.3827" stop-color="#fff" stop-opacity="0.159"/><stop offset="0.4921" stop-color="#fff" stop-opacity="0.168"/><stop offset="0.5986" stop-color="#fff" stop-opacity="0.160"/><stop offset="0.6993" stop-color="#fff" stop-opacity="0.137"/><stop offset="0.7856" stop-color="#fff" stop-opacity="0.111"/><stop offset="0.8576" stop-color="#fff" stop-opacity="0.088"/><stop offset="0.9151" stop-color="#fff" stop-opacity="0.071"/><stop offset="0.9583" stop-color="#fff" stop-opacity="0.059"/><stop offset="0.9799" stop-color="#fff" stop-opacity="0.054"/><stop offset="1.0000" stop-color="#fff" stop-opacity="0.049"/></linearGradient>
<linearGradient id="h283" x1="0" y1="0" x2="1" y2="0"><stop offset="0.0000" stop-color="#fff" stop-opacity="0.082"/><stop offset="0.0230" stop-color="#fff" stop-opacity="0.088"/><stop offset="0.0662" stop-color="#fff" stop-opacity="0.101"/><stop offset="0.1237" stop-color="#fff" stop-opacity="0.118"/><stop offset="0.1957" stop-color="#fff" stop-opacity="0.139"/><stop offset="0.2820" stop-color="#fff" stop-opacity="0.163"/><stop offset="0.3827" stop-color="#fff" stop-opacity="0.182"/><stop offset="0.4921" stop-color="#fff" stop-opacity="0.188"/><stop offset="0.5986" stop-color="#fff" stop-opacity="0.182"/><stop offset="0.6993" stop-color="#fff" stop-opacity="0.163"/><stop offset="0.7856" stop-color="#fff" stop-opacity="0.140"/><stop offset="0.8576" stop-color="#fff" stop-opacity="0.119"/><stop offset="0.9151" stop-color="#fff" stop-opacity="0.101"/><stop offset="0.9583" stop-color="#fff" stop-opacity="0.089"/><stop offset="0.9799" stop-color="#fff" stop-opacity="0.083"/><stop offset="1.0000" stop-color="#fff" stop-opacity="0.078"/></linearGradient>
<linearGradient id="h286" x1="0" y1="0" x2="1" y2="0"><stop offset="0.0000" stop-color="#fff" stop-opacity="0.082"/><stop offset="0.0230" stop-color="#fff" stop-opacity="0.088"/><stop offset="0.0662" stop-color="#fff" stop-opacity="0.100"/><stop offset="0.1237" stop-color="#fff" stop-opacity="0.117"/><stop offset="0.1957" stop-color="#fff" stop-opacity="0.138"/><stop offset="0.2820" stop-color="#fff" stop-opacity="0.161"/><stop offset="0.3827" stop-color="#fff" stop-opacity="0.179"/><stop offset="0.4921" stop-color="#fff" stop-opacity="0.186"/><stop offset="0.5986" stop-color="#fff" stop-opacity="0.180"/><stop offset="0.6993" stop-color="#fff" stop-opacity="0.161"/><stop offset="0.7856" stop-color="#fff" stop-opacity="0.139"/><stop offset="0.8576" stop-color="#fff" stop-opacity="0.118"/><stop offset="0.9151" stop-color="#fff" stop-opacity="0.101"/><stop offset="0.9583" stop-color="#fff" stop-opacity="0.089"/><stop offset="0.9799" stop-color="#fff" stop-opacity="0.083"/><stop offset="1.0000" stop-color="#fff" stop-opacity="0.077"/></linearGradient>
<linearGradient id="h336" x1="0" y1="0" x2="1" y2="0"><stop offset="0.0000" stop-color="#fff" stop-opacity="0.122"/><stop offset="0.0230" stop-color="#fff" stop-opacity="0.129"/><stop offset="0.0662" stop-color="#fff" stop-opacity="0.143"/><stop offset="0.1237" stop-color="#fff" stop-opacity="0.161"/><stop offset="0.1957" stop-color="#fff" stop-opacity="0.183"/><stop offset="0.2820" stop-color="#fff" stop-opacity="0.206"/><stop offset="0.3827" stop-color="#fff" stop-opacity="0.225"/><stop offset="0.4921" stop-color="#fff" stop-opacity="0.231"/><stop offset="0.5986" stop-color="#fff" stop-opacity="0.225"/><stop offset="0.6993" stop-color="#fff" stop-opacity="0.207"/><stop offset="0.7856" stop-color="#fff" stop-opacity="0.184"/><stop offset="0.8576" stop-color="#fff" stop-opacity="0.162"/><stop offset="0.9151" stop-color="#fff" stop-opacity="0.143"/><stop offset="0.9583" stop-color="#fff" stop-opacity="0.130"/><stop offset="0.9799" stop-color="#fff" stop-opacity="0.123"/><stop offset="1.0000" stop-color="#fff" stop-opacity="0.117"/></linearGradient>
<linearGradient id="h339" x1="0" y1="0" x2="1" y2="0"><stop offset="0.0000" stop-color="#fff" stop-opacity="0.121"/><stop offset="0.0230" stop-color="#fff" stop-opacity="0.128"/><stop offset="0.0662" stop-color="#fff" stop-opacity="0.141"/><stop offset="0.1237" stop-color="#fff" stop-opacity="0.160"/><stop offset="0.1957" stop-color="#fff" stop-opacity="0.182"/><stop offset="0.2820" stop-color="#fff" stop-opacity="0.204"/><stop offset="0.3827" stop-color="#fff" stop-opacity="0.222"/><stop offset="0.4921" stop-color="#fff" stop-opacity="0.228"/><stop offset="0.5986" stop-color="#fff" stop-opacity="0.223"/><stop offset="0.6993" stop-color="#fff" stop-opacity="0.205"/><stop offset="0.7856" stop-color="#fff" stop-opacity="0.182"/><stop offset="0.8576" stop-color="#fff" stop-opacity="0.160"/><stop offset="0.9151" stop-color="#fff" stop-opacity="0.142"/><stop offset="0.9583" stop-color="#fff" stop-opacity="0.129"/><stop offset="0.9799" stop-color="#fff" stop-opacity="0.122"/><stop offset="1.0000" stop-color="#fff" stop-opacity="0.116"/></linearGradient></defs>
<rect x="24" y="77" width="695" height="2" fill="rgb(200,200,200)" fill-opacity="0.6"/>
<rect x="24" y="76" width="695" height="1" fill="url(#h76)"/>
<rect x="24" y="79" width="695" height="1" fill="url(#h79)"/>
<rect x="24" y="129" width="695" height="2" fill="rgb(201,201,201)" fill-opacity="0.7"/>
<rect x="24" y="128" width="695" height="1" fill="url(#h128)"/>
<rect x="24" y="131" width="695" height="1" fill="url(#h131)"/>
<rect x="24" y="181" width="695" height="2" fill="rgb(190,190,190)" fill-opacity="0.75"/>
<rect x="24" y="180" width="695" height="1" fill="url(#h180)"/>
<rect x="24" y="183" width="695" height="1" fill="url(#h183)"/>
<rect x="24" y="233" width="695" height="2" fill="rgb(170,170,170)" fill-opacity="0.8"/>
<rect x="24" y="232" width="695" height="1" fill="url(#h232)"/>
<rect x="24" y="235" width="695" height="1" fill="url(#h235)"/>
<rect x="24" y="284" width="695" height="2" fill="rgb(144,144,144)" fill-opacity="0.83"/>
<rect x="24" y="283" width="695" height="1" fill="url(#h283)"/>
<rect x="24" y="286" width="695" height="1" fill="url(#h286)"/>
<rect x="24" y="337" width="695" height="2" fill="rgb(108,108,108)" fill-opacity="0.86"/>
<rect x="24" y="336" width="695" height="1" fill="url(#h336)"/>
<rect x="24" y="339" width="695" height="1" fill="url(#h339)"/>
<rect x="44" y="142" width="59" height="246" fill="rgb(244,155,81)" fill-opacity="0.92"/>
<rect x="43" y="141" width="61" height="248" fill="none" stroke="#fde4cd" stroke-width="2"/>
<rect x="44.5" y="142.5" width="58" height="245" fill="none" stroke="#a8a7a8" stroke-opacity="0.28" stroke-width="1"/>
<rect x="143" y="224" width="58" height="164" fill="rgb(244,155,81)" fill-opacity="0.92"/>
<rect x="142" y="223" width="60" height="166" fill="none" stroke="#fde4cd" stroke-width="2"/>
<rect x="143.5" y="224.5" width="57" height="163" fill="none" stroke="#a8a7a8" stroke-opacity="0.28" stroke-width="1"/>
<rect x="243" y="266" width="58" height="122" fill="rgb(244,154,80)" fill-opacity="0.92"/>
<rect x="242" y="265" width="60" height="124" fill="none" stroke="#fde4cd" stroke-width="2"/>
<rect x="243.5" y="266.5" width="57" height="121" fill="none" stroke="#a8a7a8" stroke-opacity="0.28" stroke-width="1"/>
<rect x="342" y="281" width="59" height="107" fill="rgb(243,154,80)" fill-opacity="0.92"/>
<rect x="341" y="280" width="61" height="109" fill="none" stroke="#fde4cd" stroke-width="2"/>
<rect x="342.5" y="281.5" width="58" height="106" fill="none" stroke="#a8a7a8" stroke-opacity="0.28" stroke-width="1"/>
<rect x="441" y="286" width="58" height="102" fill="rgb(244,155,81)" fill-opacity="0.92"/>
<rect x="440" y="285" width="60" height="104" fill="none" stroke="#fde4cd" stroke-width="2"/>
<rect x="441.5" y="286.5" width="57" height="101" fill="none" stroke="#a8a7a8" stroke-opacity="0.28" stroke-width="1"/>
<rect x="541" y="291" width="58" height="97" fill="rgb(244,155,81)" fill-opacity="0.92"/>
<rect x="540" y="290" width="60" height="99" fill="none" stroke="#fde4cd" stroke-width="2"/>
<rect x="541.5" y="291.5" width="57" height="96" fill="none" stroke="#a8a7a8" stroke-opacity="0.28" stroke-width="1"/>
<rect x="639" y="318" width="59" height="70" fill="rgb(245,156,82)" fill-opacity="0.92"/>
<rect x="638" y="317" width="61" height="72" fill="none" stroke="#fde4cd" stroke-width="2"/>
<rect x="639.5" y="318.5" width="58" height="69" fill="none" stroke="#a8a7a8" stroke-opacity="0.28" stroke-width="1"/>
<rect x="24" y="388" width="695" height="3" fill="#333333"/>
<rect x="24" y="387" width="18" height="1" fill="#fff" fill-opacity="0.3"/>
<rect x="105" y="387" width="36" height="1" fill="#fff" fill-opacity="0.3"/>
<rect x="203" y="387" width="38" height="1" fill="#fff" fill-opacity="0.3"/>
<rect x="303" y="387" width="37" height="1" fill="#fff" fill-opacity="0.3"/>
<rect x="403" y="387" width="36" height="1" fill="#fff" fill-opacity="0.3"/>
<rect x="501" y="387" width="38" height="1" fill="#fff" fill-opacity="0.3"/>
<rect x="601" y="387" width="36" height="1" fill="#fff" fill-opacity="0.3"/>
<rect x="700" y="387" width="19" height="1" fill="#fff" fill-opacity="0.3"/>
<rect x="42" y="388" width="63" height="1" fill="#e07020" fill-opacity="0.3"/>
<rect x="42" y="389" width="63" height="2" fill="#e07020" fill-opacity="0.07"/>
<rect x="141" y="388" width="62" height="1" fill="#e07020" fill-opacity="0.3"/>
<rect x="141" y="389" width="62" height="2" fill="#e07020" fill-opacity="0.07"/>
<rect x="241" y="388" width="62" height="1" fill="#e07020" fill-opacity="0.3"/>
<rect x="241" y="389" width="62" height="2" fill="#e07020" fill-opacity="0.07"/>
<rect x="340" y="388" width="63" height="1" fill="#e07020" fill-opacity="0.3"/>
<rect x="340" y="389" width="63" height="2" fill="#e07020" fill-opacity="0.07"/>
<rect x="439" y="388" width="62" height="1" fill="#e07020" fill-opacity="0.3"/>
<rect x="439" y="389" width="62" height="2" fill="#e07020" fill-opacity="0.07"/>
<rect x="539" y="388" width="62" height="1" fill="#e07020" fill-opacity="0.3"/>
<rect x="539" y="389" width="62" height="2" fill="#e07020" fill-opacity="0.07"/>
<rect x="637" y="388" width="63" height="1" fill="#e07020" fill-opacity="0.3"/>
<rect x="637" y="389" width="63" height="2" fill="#e07020" fill-opacity="0.07"/>
<rect x="24" y="391" width="695" height="1" fill="#fff" fill-opacity="0.2"/>
<text x="137" y="46.8" font-family="Liberation Sans" font-weight="bold" font-size="33.5" fill="#404040" stroke="#404040" stroke-width="0.5" textLength="464" lengthAdjust="spacingAndGlyphs">Susceptibilidad a mancha ocre</text>
<text x="45.0" y="418.6" font-family="Liberation Sans" font-size="17.2" fill="#404040" textLength="55.8" lengthAdjust="spacingAndGlyphs">GUARA</text>
<text x="132.2" y="418.6" font-family="Liberation Sans" font-size="17.2" fill="#404040" textLength="80.3" lengthAdjust="spacingAndGlyphs">LARGUETA</text>
<text x="243.2" y="418.6" font-family="Liberation Sans" font-size="17.2" fill="#404040" textLength="57.4" lengthAdjust="spacingAndGlyphs">SOLETA</text>
<text x="346.0" y="418.6" font-family="Liberation Sans" font-size="17.2" fill="#404040" textLength="50.9" lengthAdjust="spacingAndGlyphs">PENTA</text>
<text x="427.2" y="418.6" font-family="Liberation Sans" font-size="17.2" fill="#404040" textLength="85.0" lengthAdjust="spacingAndGlyphs">ANTOÑETA</text>
<text x="527.7" y="418.6" font-family="Liberation Sans" font-size="17.2" fill="#404040" textLength="83.1" lengthAdjust="spacingAndGlyphs">LAURANNE</text>
<text x="638.3" y="418.6" font-family="Liberation Sans" font-size="17.2" fill="#404040" textLength="61.7" lengthAdjust="spacingAndGlyphs">BELONA</text>
<text x="73.95" y="167.1" text-anchor="middle" font-family="Liberation Sans" font-weight="bold" font-size="15.8" letter-spacing="1.1" fill="#ffffff" stroke="#ffffff" stroke-width="0.3">9,6</text>
<text x="173.60" y="250.6" text-anchor="middle" font-family="Liberation Sans" font-weight="bold" font-size="15.8" letter-spacing="1.1" fill="#ffffff" stroke="#ffffff" stroke-width="0.3">6,4</text>
<text x="271.65" y="291.5" text-anchor="middle" font-family="Liberation Sans" font-weight="bold" font-size="15.8" letter-spacing="1.1" fill="#ffffff" stroke="#ffffff" stroke-width="0.3">4,8</text>
<text x="371.65" y="306.1" text-anchor="middle" font-family="Liberation Sans" font-weight="bold" font-size="15.8" letter-spacing="1.1" fill="#ffffff" stroke="#ffffff" stroke-width="0.3">4,2</text>
<text x="470.62" y="312.2" text-anchor="middle" font-family="Liberation Sans" font-weight="bold" font-size="15.8" letter-spacing="0" fill="#ffffff" stroke="#ffffff" stroke-width="0.3">4</text>
<text x="569.80" y="317.1" text-anchor="middle" font-family="Liberation Sans" font-weight="bold" font-size="15.8" letter-spacing="1.1" fill="#ffffff" stroke="#ffffff" stroke-width="0.3">3,8</text>
<text x="669.30" y="343.1" text-anchor="middle" font-family="Liberation Sans" font-weight="bold" font-size="15.8" letter-spacing="1.1" fill="#ffffff" stroke="#ffffff" stroke-width="0.3">2,8</text>
</svg></div></body></html>
